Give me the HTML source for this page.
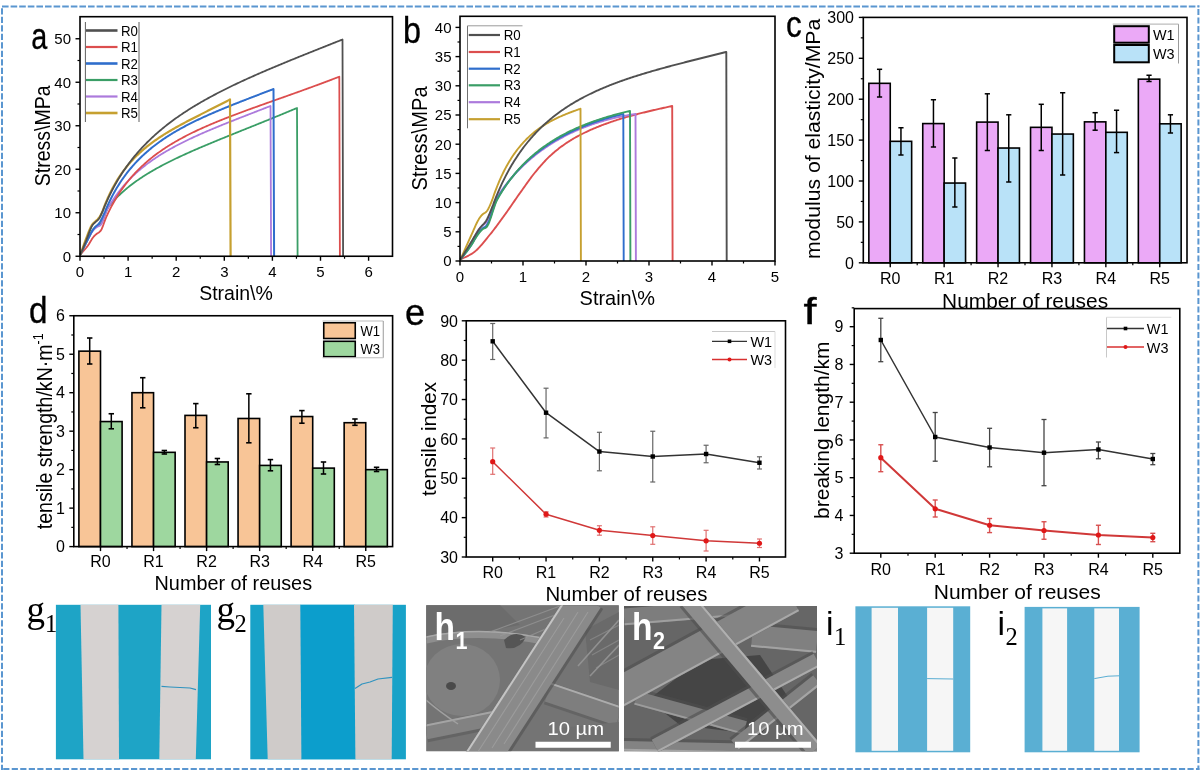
<!DOCTYPE html>
<html><head><meta charset="utf-8"><style>
html,body{margin:0;padding:0;background:#fff;width:1200px;height:781px;overflow:hidden}
svg{display:block;filter:blur(0.4px)}
text{font-family:"Liberation Sans", sans-serif}
</style></head><body>
<svg width="1200" height="781" viewBox="0 0 1200 781">
<g>
<polyline points="80.5,254.5 81.58,252.23 82.67,249.94 83.75,247.64 84.83,245.37 85.92,243.15 87,241 88.13,238.72 89.27,236.37 90.4,234.06 91.53,231.92 92.67,230.06 93.8,228.6 94.87,227.58 95.93,226.74 97,226 98.17,225.35 99.33,224.78 100.5,224 101.63,222.57 102.76,220.36 103.89,217.63 105.01,214.67 106.14,211.74 107.27,209.11 108.4,207.05 108.4,207.05 109.4,205.81 110.4,204.6 111.4,203.43 112.4,202.28 113.4,201.17 114.4,200.08 115.4,199.02 116.4,197.98 117.4,196.97 118.4,195.97 119.4,195.01 120.4,194.06 121.4,193.13 122.4,192.22 123.4,191.33 124.4,190.45 125.4,189.59 126.4,188.75 127.4,187.92 128.4,187.11 129.4,186.31 130.4,185.53 131.4,184.75 132.4,184 133.4,183.25 134.4,182.51 135.4,181.79 136.4,181.07 137.4,180.37 138.4,179.68 139.4,178.99 140.4,178.32 141.4,177.65 142.4,177 143.4,176.35 144.4,175.71 145.4,175.07 146.4,174.45 147.4,173.83 148.4,173.22 149.4,172.62 150.4,172.02 151.4,171.43 152.4,170.85 153.4,170.27 154.4,169.7 155.4,169.13 156.4,168.57 157.4,168.02 158.4,167.47 159.4,166.92 160.4,166.38 161.4,165.85 162.4,165.32 163.4,164.79 164.4,164.27 165.4,163.75 166.4,163.24 167.4,162.73 168.4,162.22 169.4,161.72 170.4,161.22 171.4,160.73 172.4,160.24 173.4,159.75 174.4,159.27 175.4,158.78 176.4,158.31 177.4,157.83 178.4,157.36 179.4,156.89 180.4,156.42 181.4,155.95 182.4,155.49 183.4,155.03 184.4,154.57 185.4,154.12 186.4,153.67 187.4,153.22 188.4,152.77 189.4,152.32 190.4,151.88 191.4,151.43 192.4,150.99 193.4,150.55 194.4,150.11 195.4,149.68 196.4,149.24 197.4,148.81 198.4,148.38 199.4,147.95 200.4,147.52 201.4,147.1 202.4,146.67 203.4,146.25 204.4,145.82 205.4,145.4 206.4,144.98 207.4,144.56 208.4,144.14 209.4,143.72 210.4,143.31 211.4,142.89 212.4,142.48 213.4,142.06 214.4,141.65 215.4,141.24 216.4,140.83 217.4,140.42 218.4,140.01 219.4,139.6 220.4,139.19 221.4,138.78 222.4,138.37 223.4,137.96 224.4,137.56 225.4,137.15 226.4,136.75 227.4,136.34 228.4,135.94 229.4,135.53 230.4,135.13 231.4,134.72 232.4,134.32 233.4,133.92 234.4,133.51 235.4,133.11 236.4,132.71 237.4,132.3 238.4,131.9 239.4,131.5 240.4,131.1 241.4,130.7 242.4,130.29 243.4,129.89 244.4,129.49 245.4,129.09 246.4,128.69 247.4,128.28 248.4,127.88 249.4,127.48 250.4,127.08 251.4,126.68 252.4,126.27 253.4,125.87 254.4,125.47 255.4,125.07 256.4,124.66 257.4,124.26 258.4,123.86 259.4,123.45 260.4,123.05 261.4,122.64 262.4,122.24 263.4,121.83 264.4,121.43 265.4,121.02 266.4,120.62 267.4,120.21 268.4,119.81 269.4,119.4 270.4,118.99 271.4,118.58 272.4,118.18 273.4,117.77 274.4,117.36 275.4,116.95 276.4,116.54 277.4,116.13 278.4,115.72 279.4,115.31 280.4,114.9 281.4,114.48 282.4,114.07 283.4,113.66 284.4,113.25 285.4,112.83 286.4,112.42 287.4,112 288.4,111.58 289.4,111.17 290.4,110.75 291.4,110.33 292.4,109.91 293.4,109.5 294.4,109.08 295.4,108.66 296.4,108.23 297,107.98 297.6,256.25" fill="none" stroke="#3A9E66" stroke-width="1.8" stroke-linejoin="round" />
<polyline points="80.5,254.5 81.58,252.22 82.67,249.89 83.75,247.56 84.83,245.28 85.92,243.08 87,241 88.13,238.88 89.27,236.75 90.4,234.69 91.53,232.78 92.67,231.09 93.8,229.7 94.87,228.64 95.93,227.75 97,227 98.17,226.41 99.33,225.92 100.5,225.2 101.64,223.56 102.78,220.84 103.92,217.57 105.06,214.29 106.2,211.54 106.2,211.54 107.2,209.68 108.2,207.88 109.2,206.14 110.2,204.45 111.2,202.81 112.2,201.22 113.2,199.68 114.2,198.18 115.2,196.72 116.2,195.3 117.2,193.92 118.2,192.57 119.2,191.26 120.2,189.98 121.2,188.73 122.2,187.5 123.2,186.31 124.2,185.15 125.2,184.01 126.2,182.9 127.2,181.81 128.2,180.74 129.2,179.69 130.2,178.67 131.2,177.67 132.2,176.68 133.2,175.72 134.2,174.78 135.2,173.85 136.2,172.94 137.2,172.04 138.2,171.16 139.2,170.3 140.2,169.45 141.2,168.62 142.2,167.8 143.2,166.99 144.2,166.2 145.2,165.42 146.2,164.65 147.2,163.89 148.2,163.15 149.2,162.41 150.2,161.69 151.2,160.98 152.2,160.27 153.2,159.58 154.2,158.9 155.2,158.22 156.2,157.56 157.2,156.9 158.2,156.25 159.2,155.61 160.2,154.98 161.2,154.36 162.2,153.74 163.2,153.13 164.2,152.53 165.2,151.93 166.2,151.34 167.2,150.76 168.2,150.18 169.2,149.61 170.2,149.05 171.2,148.49 172.2,147.94 173.2,147.39 174.2,146.85 175.2,146.31 176.2,145.78 177.2,145.26 178.2,144.73 179.2,144.22 180.2,143.7 181.2,143.2 182.2,142.69 183.2,142.19 184.2,141.7 185.2,141.2 186.2,140.72 187.2,140.23 188.2,139.75 189.2,139.27 190.2,138.8 191.2,138.33 192.2,137.86 193.2,137.4 194.2,136.93 195.2,136.48 196.2,136.02 197.2,135.57 198.2,135.12 199.2,134.67 200.2,134.22 201.2,133.78 202.2,133.34 203.2,132.9 204.2,132.47 205.2,132.03 206.2,131.6 207.2,131.17 208.2,130.75 209.2,130.32 210.2,129.9 211.2,129.48 212.2,129.05 213.2,128.64 214.2,128.22 215.2,127.8 216.2,127.39 217.2,126.98 218.2,126.57 219.2,126.16 220.2,125.75 221.2,125.34 222.2,124.94 223.2,124.53 224.2,124.13 225.2,123.72 226.2,123.32 227.2,122.92 228.2,122.52 229.2,122.12 230.2,121.72 231.2,121.33 232.2,120.93 233.2,120.54 234.2,120.14 235.2,119.75 236.2,119.35 237.2,118.96 238.2,118.57 239.2,118.17 240.2,117.78 241.2,117.39 242.2,117 243.2,116.61 244.2,116.22 245.2,115.83 246.2,115.44 247.2,115.05 248.2,114.66 249.2,114.27 250.2,113.88 251.2,113.5 252.2,113.11 253.2,112.72 254.2,112.33 255.2,111.94 256.2,111.55 257.2,111.17 258.2,110.78 259.2,110.39 260.2,110 261.2,109.61 262.2,109.22 263.2,108.84 264.2,108.45 265.2,108.06 266.2,107.67 267.2,107.28 268.2,106.89 269.2,106.5 270.2,106.11 270.5,105.99 271.1,256.25" fill="none" stroke="#AC7ADC" stroke-width="1.8" stroke-linejoin="round" />
<polyline points="80.5,254.5 81.57,253.24 82.64,252 83.71,250.77 84.79,249.53 85.86,248.25 86.93,246.91 88,245.5 89.16,243.76 90.32,241.82 91.48,239.85 92.64,238.02 93.8,236.5 95.15,235.15 96.5,234 97.5,233.27 98.5,232.64 99.5,231.94 100.5,231 101.64,229.17 102.78,226.47 103.92,223.31 105.06,220.09 106.2,217.22 106.2,217.22 107.2,215.02 108.2,212.89 109.2,210.83 110.2,208.83 111.2,206.9 112.2,205.03 113.2,203.2 114.2,201.44 115.2,199.72 116.2,198.04 117.2,196.42 118.2,194.83 119.2,193.29 120.2,191.78 121.2,190.31 122.2,188.88 123.2,187.48 124.2,186.12 125.2,184.79 126.2,183.48 127.2,182.21 128.2,180.96 129.2,179.74 130.2,178.55 131.2,177.38 132.2,176.24 133.2,175.12 134.2,174.02 135.2,172.95 136.2,171.89 137.2,170.85 138.2,169.84 139.2,168.84 140.2,167.87 141.2,166.9 142.2,165.96 143.2,165.04 144.2,164.12 145.2,163.23 146.2,162.35 147.2,161.49 148.2,160.64 149.2,159.8 150.2,158.98 151.2,158.17 152.2,157.37 153.2,156.58 154.2,155.81 155.2,155.05 156.2,154.3 157.2,153.56 158.2,152.83 159.2,152.11 160.2,151.41 161.2,150.71 162.2,150.02 163.2,149.34 164.2,148.67 165.2,148.01 166.2,147.36 167.2,146.71 168.2,146.08 169.2,145.45 170.2,144.83 171.2,144.22 172.2,143.61 173.2,143.01 174.2,142.42 175.2,141.84 176.2,141.26 177.2,140.69 178.2,140.12 179.2,139.57 180.2,139.01 181.2,138.47 182.2,137.92 183.2,137.39 184.2,136.86 185.2,136.33 186.2,135.81 187.2,135.3 188.2,134.79 189.2,134.28 190.2,133.78 191.2,133.29 192.2,132.8 193.2,132.31 194.2,131.83 195.2,131.35 196.2,130.87 197.2,130.4 198.2,129.93 199.2,129.47 200.2,129.01 201.2,128.56 202.2,128.1 203.2,127.65 204.2,127.21 205.2,126.76 206.2,126.32 207.2,125.89 208.2,125.45 209.2,125.02 210.2,124.59 211.2,124.17 212.2,123.75 213.2,123.33 214.2,122.91 215.2,122.49 216.2,122.08 217.2,121.67 218.2,121.26 219.2,120.85 220.2,120.45 221.2,120.05 222.2,119.65 223.2,119.25 224.2,118.85 225.2,118.46 226.2,118.07 227.2,117.68 228.2,117.29 229.2,116.9 230.2,116.51 231.2,116.13 232.2,115.75 233.2,115.36 234.2,114.98 235.2,114.61 236.2,114.23 237.2,113.85 238.2,113.48 239.2,113.1 240.2,112.73 241.2,112.36 242.2,111.99 243.2,111.62 244.2,111.25 245.2,110.88 246.2,110.52 247.2,110.15 248.2,109.78 249.2,109.42 250.2,109.06 251.2,108.69 252.2,108.33 253.2,107.97 254.2,107.61 255.2,107.25 256.2,106.89 257.2,106.53 258.2,106.17 259.2,105.81 260.2,105.46 261.2,105.1 262.2,104.74 263.2,104.39 264.2,104.03 265.2,103.67 266.2,103.32 267.2,102.96 268.2,102.61 269.2,102.25 270.2,101.9 271.2,101.54 272.2,101.19 273.2,100.84 274.2,100.48 275.2,100.13 276.2,99.77 277.2,99.42 278.2,99.06 279.2,98.71 280.2,98.36 281.2,98 282.2,97.65 283.2,97.29 284.2,96.94 285.2,96.58 286.2,96.23 287.2,95.87 288.2,95.52 289.2,95.16 290.2,94.8 291.2,94.45 292.2,94.09 293.2,93.73 294.2,93.38 295.2,93.02 296.2,92.66 297.2,92.3 298.2,91.95 299.2,91.59 300.2,91.23 301.2,90.87 302.2,90.51 303.2,90.15 304.2,89.78 305.2,89.42 306.2,89.06 307.2,88.7 308.2,88.33 309.2,87.97 310.2,87.61 311.2,87.24 312.2,86.87 313.2,86.51 314.2,86.14 315.2,85.77 316.2,85.4 317.2,85.04 318.2,84.67 319.2,84.3 320.2,83.93 321.2,83.55 322.2,83.18 323.2,82.81 324.2,82.43 325.2,82.06 326.2,81.68 327.2,81.31 328.2,80.93 329.2,80.55 330.2,80.17 331.2,79.79 332.2,79.41 333.2,79.03 334.2,78.65 335.2,78.27 336.2,77.88 337.2,77.5 338.2,77.11 339.2,76.73 339.3,76.69 339.9,256.25" fill="none" stroke="#DC4E4E" stroke-width="1.8" stroke-linejoin="round" />
<polyline points="80.5,254.5 81.58,252.23 82.67,249.94 83.75,247.64 84.83,245.37 85.92,243.15 87,241 88.13,238.75 89.27,236.47 90.4,234.24 91.53,232.13 92.67,230.22 93.8,228.6 94.92,227.34 96.04,226.32 97.16,225.36 98.28,224.31 99.4,223 100.52,221.24 101.64,219.08 102.76,216.65 103.88,214.11 105,211.61 105,211.61 106,209.23 107,206.93 108,204.71 109,202.56 110,200.49 111,198.47 112,196.52 113,194.63 114,192.79 115,191.01 116,189.28 117,187.59 118,185.95 119,184.36 120,182.8 121,181.29 122,179.81 123,178.37 124,176.96 125,175.59 126,174.25 127,172.94 128,171.66 129,170.41 130,169.18 131,167.99 132,166.82 133,165.67 134,164.54 135,163.44 136,162.36 137,161.31 138,160.27 139,159.25 140,158.25 141,157.28 142,156.31 143,155.37 144,154.44 145,153.53 146,152.64 147,151.76 148,150.89 149,150.04 150,149.21 151,148.38 152,147.57 153,146.78 154,145.99 155,145.22 156,144.46 157,143.71 158,142.97 159,142.24 160,141.52 161,140.82 162,140.12 163,139.43 164,138.75 165,138.08 166,137.42 167,136.77 168,136.13 169,135.49 170,134.86 171,134.24 172,133.63 173,133.02 174,132.42 175,131.83 176,131.24 177,130.67 178,130.09 179,129.53 180,128.97 181,128.41 182,127.86 183,127.32 184,126.78 185,126.25 186,125.72 187,125.2 188,124.68 189,124.17 190,123.66 191,123.15 192,122.65 193,122.16 194,121.66 195,121.18 196,120.69 197,120.21 198,119.73 199,119.26 200,118.79 201,118.33 202,117.86 203,117.4 204,116.95 205,116.49 206,116.04 207,115.59 208,115.15 209,114.7 210,114.26 211,113.83 212,113.39 213,112.96 214,112.53 215,112.1 216,111.67 217,111.25 218,110.83 219,110.41 220,109.99 221,109.57 222,109.16 223,108.74 224,108.33 225,107.92 226,107.51 227,107.11 228,106.7 229,106.3 230,105.89 231,105.49 232,105.09 233,104.69 234,104.29 235,103.89 236,103.5 237,103.1 238,102.71 239,102.32 240,101.92 241,101.53 242,101.14 243,100.75 244,100.36 245,99.97 246,99.58 247,99.19 248,98.81 249,98.42 250,98.03 251,97.65 252,97.26 253,96.87 254,96.49 255,96.1 256,95.72 257,95.33 258,94.95 259,94.56 260,94.18 261,93.8 262,93.41 263,93.03 264,92.64 265,92.26 266,91.88 267,91.49 268,91.11 269,90.72 270,90.34 271,89.95 272,89.57 273,89.18 273.5,88.99 274.1,256.25" fill="none" stroke="#2F6ECC" stroke-width="2.0" stroke-linejoin="round" />
<polyline points="80.5,254.5 81.6,251.35 82.7,248.14 83.8,244.97 84.9,241.89 86,239 87.1,236.15 88.2,233.24 89.3,230.43 90.4,227.85 91.5,225.66 92.6,224 93.8,222.82 95,221.8 96.27,220.64 97.53,219.45 98.8,218 99.8,216.51 100.8,214.69 101.8,212.65 102.8,210.49 102.8,210.49 103.8,207.79 104.8,205.21 105.8,202.73 106.8,200.35 107.8,198.06 108.8,195.85 109.8,193.73 110.8,191.69 111.8,189.71 112.8,187.81 113.8,185.97 114.8,184.18 115.8,182.46 116.8,180.79 117.8,179.17 118.8,177.6 119.8,176.08 120.8,174.6 121.8,173.16 122.8,171.77 123.8,170.41 124.8,169.09 125.8,167.8 126.8,166.55 127.8,165.33 128.8,164.14 129.8,162.98 130.8,161.84 131.8,160.74 132.8,159.66 133.8,158.6 134.8,157.57 135.8,156.56 136.8,155.57 137.8,154.6 138.8,153.66 139.8,152.73 140.8,151.82 141.8,150.93 142.8,150.06 143.8,149.2 144.8,148.36 145.8,147.53 146.8,146.72 147.8,145.92 148.8,145.14 149.8,144.36 150.8,143.61 151.8,142.86 152.8,142.12 153.8,141.4 154.8,140.69 155.8,139.98 156.8,139.29 157.8,138.61 158.8,137.93 159.8,137.27 160.8,136.61 161.8,135.96 162.8,135.32 163.8,134.69 164.8,134.06 165.8,133.44 166.8,132.83 167.8,132.22 168.8,131.62 169.8,131.02 170.8,130.44 171.8,129.85 172.8,129.27 173.8,128.7 174.8,128.13 175.8,127.57 176.8,127 177.8,126.45 178.8,125.9 179.8,125.35 180.8,124.8 181.8,124.26 182.8,123.72 183.8,123.19 184.8,122.65 185.8,122.12 186.8,121.59 187.8,121.07 188.8,120.55 189.8,120.02 190.8,119.5 191.8,118.99 192.8,118.47 193.8,117.96 194.8,117.44 195.8,116.93 196.8,116.42 197.8,115.91 198.8,115.4 199.8,114.9 200.8,114.39 201.8,113.88 202.8,113.38 203.8,112.87 204.8,112.37 205.8,111.86 206.8,111.36 207.8,110.85 208.8,110.35 209.8,109.84 210.8,109.34 211.8,108.83 212.8,108.32 213.8,107.82 214.8,107.31 215.8,106.8 216.8,106.29 217.8,105.79 218.8,105.28 219.8,104.77 220.8,104.25 221.8,103.74 222.8,103.23 223.8,102.71 224.8,102.2 225.8,101.68 226.8,101.16 227.8,100.64 228.8,100.12 229.8,99.59 230,99.49 230.6,256.25" fill="none" stroke="#C6A030" stroke-width="2.2" stroke-linejoin="round" />
<polyline points="80.5,254.5 81.6,251.8 82.7,249.09 83.8,246.39 84.9,243.69 86,241 87.1,238.16 88.2,235.14 89.3,232.12 90.4,229.3 91.5,226.86 92.6,225 93.8,223.63 95,222.5 96.27,221.39 97.53,220.34 98.8,219 99.8,217.44 100.8,215.42 101.8,213.17 102.8,210.89 102.8,210.89 103.8,208.39 104.8,205.96 105.8,203.62 106.8,201.34 107.8,199.13 108.8,196.99 109.8,194.9 110.8,192.88 111.8,190.9 112.8,188.98 113.8,187.11 114.8,185.28 115.8,183.5 116.8,181.76 117.8,180.06 118.8,178.39 119.8,176.77 120.8,175.18 121.8,173.62 122.8,172.1 123.8,170.61 124.8,169.14 125.8,167.71 126.8,166.3 127.8,164.92 128.8,163.57 129.8,162.24 130.8,160.94 131.8,159.65 132.8,158.39 133.8,157.16 134.8,155.94 135.8,154.74 136.8,153.57 137.8,152.41 138.8,151.27 139.8,150.15 140.8,149.04 141.8,147.96 142.8,146.88 143.8,145.83 144.8,144.79 145.8,143.76 146.8,142.75 147.8,141.76 148.8,140.78 149.8,139.81 150.8,138.85 151.8,137.91 152.8,136.98 153.8,136.06 154.8,135.15 155.8,134.25 156.8,133.37 157.8,132.5 158.8,131.63 159.8,130.78 160.8,129.94 161.8,129.1 162.8,128.28 163.8,127.47 164.8,126.66 165.8,125.87 166.8,125.08 167.8,124.3 168.8,123.53 169.8,122.77 170.8,122.01 171.8,121.27 172.8,120.53 173.8,119.8 174.8,119.07 175.8,118.35 176.8,117.64 177.8,116.94 178.8,116.24 179.8,115.55 180.8,114.87 181.8,114.19 182.8,113.52 183.8,112.86 184.8,112.2 185.8,111.54 186.8,110.89 187.8,110.25 188.8,109.61 189.8,108.98 190.8,108.35 191.8,107.73 192.8,107.11 193.8,106.5 194.8,105.89 195.8,105.29 196.8,104.69 197.8,104.1 198.8,103.51 199.8,102.92 200.8,102.34 201.8,101.77 202.8,101.19 203.8,100.62 204.8,100.06 205.8,99.5 206.8,98.94 207.8,98.39 208.8,97.84 209.8,97.29 210.8,96.75 211.8,96.21 212.8,95.67 213.8,95.14 214.8,94.61 215.8,94.08 216.8,93.56 217.8,93.04 218.8,92.52 219.8,92 220.8,91.49 221.8,90.98 222.8,90.47 223.8,89.97 224.8,89.47 225.8,88.97 226.8,88.47 227.8,87.98 228.8,87.49 229.8,87 230.8,86.51 231.8,86.03 232.8,85.55 233.8,85.06 234.8,84.59 235.8,84.11 236.8,83.64 237.8,83.17 238.8,82.7 239.8,82.23 240.8,81.76 241.8,81.3 242.8,80.84 243.8,80.38 244.8,79.92 245.8,79.46 246.8,79 247.8,78.55 248.8,78.1 249.8,77.65 250.8,77.2 251.8,76.75 252.8,76.31 253.8,75.86 254.8,75.42 255.8,74.98 256.8,74.54 257.8,74.1 258.8,73.66 259.8,73.22 260.8,72.79 261.8,72.36 262.8,71.92 263.8,71.49 264.8,71.06 265.8,70.63 266.8,70.2 267.8,69.78 268.8,69.35 269.8,68.93 270.8,68.5 271.8,68.08 272.8,67.66 273.8,67.24 274.8,66.82 275.8,66.4 276.8,65.98 277.8,65.56 278.8,65.14 279.8,64.73 280.8,64.31 281.8,63.9 282.8,63.48 283.8,63.07 284.8,62.66 285.8,62.25 286.8,61.84 287.8,61.43 288.8,61.02 289.8,60.61 290.8,60.2 291.8,59.79 292.8,59.38 293.8,58.98 294.8,58.57 295.8,58.16 296.8,57.76 297.8,57.35 298.8,56.95 299.8,56.54 300.8,56.14 301.8,55.74 302.8,55.33 303.8,54.93 304.8,54.53 305.8,54.13 306.8,53.72 307.8,53.32 308.8,52.92 309.8,52.52 310.8,52.12 311.8,51.72 312.8,51.32 313.8,50.92 314.8,50.52 315.8,50.12 316.8,49.72 317.8,49.32 318.8,48.93 319.8,48.53 320.8,48.13 321.8,47.73 322.8,47.33 323.8,46.93 324.8,46.54 325.8,46.14 326.8,45.74 327.8,45.34 328.8,44.94 329.8,44.55 330.8,44.15 331.8,43.75 332.8,43.35 333.8,42.96 334.8,42.56 335.8,42.16 336.8,41.76 337.8,41.37 338.8,40.97 339.8,40.57 340.8,40.17 341.8,39.77 342.5,39.49 343.1,256.25" fill="none" stroke="#505050" stroke-width="1.8" stroke-linejoin="round" />
<rect x="80" y="16.7" width="312.5" height="239.55" fill="none" stroke="#000" stroke-width="1.6"/>
<line x1="75.5" y1="256.25" x2="80" y2="256.25" stroke="#000" stroke-width="1.4" />
<text x="71" y="261.62" font-size="15" text-anchor="end" fill="#000" >0</text>
<line x1="75.5" y1="212.75" x2="80" y2="212.75" stroke="#000" stroke-width="1.4" />
<text x="71" y="218.12" font-size="15" text-anchor="end" fill="#000" >10</text>
<line x1="75.5" y1="169.25" x2="80" y2="169.25" stroke="#000" stroke-width="1.4" />
<text x="71" y="174.62" font-size="15" text-anchor="end" fill="#000" >20</text>
<line x1="75.5" y1="125.75" x2="80" y2="125.75" stroke="#000" stroke-width="1.4" />
<text x="71" y="131.12" font-size="15" text-anchor="end" fill="#000" >30</text>
<line x1="75.5" y1="82.25" x2="80" y2="82.25" stroke="#000" stroke-width="1.4" />
<text x="71" y="87.62" font-size="15" text-anchor="end" fill="#000" >40</text>
<line x1="75.5" y1="38.75" x2="80" y2="38.75" stroke="#000" stroke-width="1.4" />
<text x="71" y="44.12" font-size="15" text-anchor="end" fill="#000" >50</text>
<line x1="77.5" y1="234.5" x2="80" y2="234.5" stroke="#000" stroke-width="1.2" />
<line x1="77.5" y1="191" x2="80" y2="191" stroke="#000" stroke-width="1.2" />
<line x1="77.5" y1="147.5" x2="80" y2="147.5" stroke="#000" stroke-width="1.2" />
<line x1="77.5" y1="104" x2="80" y2="104" stroke="#000" stroke-width="1.2" />
<line x1="77.5" y1="60.5" x2="80" y2="60.5" stroke="#000" stroke-width="1.2" />
<line x1="80" y1="256.25" x2="80" y2="260.75" stroke="#000" stroke-width="1.4" />
<text x="80" y="276.8" font-size="15" text-anchor="middle" fill="#000" >0</text>
<line x1="128.1" y1="256.25" x2="128.1" y2="260.75" stroke="#000" stroke-width="1.4" />
<text x="128.1" y="276.8" font-size="15" text-anchor="middle" fill="#000" >1</text>
<line x1="176.2" y1="256.25" x2="176.2" y2="260.75" stroke="#000" stroke-width="1.4" />
<text x="176.2" y="276.8" font-size="15" text-anchor="middle" fill="#000" >2</text>
<line x1="224.3" y1="256.25" x2="224.3" y2="260.75" stroke="#000" stroke-width="1.4" />
<text x="224.3" y="276.8" font-size="15" text-anchor="middle" fill="#000" >3</text>
<line x1="272.4" y1="256.25" x2="272.4" y2="260.75" stroke="#000" stroke-width="1.4" />
<text x="272.4" y="276.8" font-size="15" text-anchor="middle" fill="#000" >4</text>
<line x1="320.5" y1="256.25" x2="320.5" y2="260.75" stroke="#000" stroke-width="1.4" />
<text x="320.5" y="276.8" font-size="15" text-anchor="middle" fill="#000" >5</text>
<line x1="368.6" y1="256.25" x2="368.6" y2="260.75" stroke="#000" stroke-width="1.4" />
<text x="368.6" y="276.8" font-size="15" text-anchor="middle" fill="#000" >6</text>
<line x1="104.05" y1="256.25" x2="104.05" y2="258.75" stroke="#000" stroke-width="1.2" />
<line x1="152.15" y1="256.25" x2="152.15" y2="258.75" stroke="#000" stroke-width="1.2" />
<line x1="200.25" y1="256.25" x2="200.25" y2="258.75" stroke="#000" stroke-width="1.2" />
<line x1="248.35" y1="256.25" x2="248.35" y2="258.75" stroke="#000" stroke-width="1.2" />
<line x1="296.45" y1="256.25" x2="296.45" y2="258.75" stroke="#000" stroke-width="1.2" />
<line x1="344.55" y1="256.25" x2="344.55" y2="258.75" stroke="#000" stroke-width="1.2" />
<line x1="85.4" y1="22" x2="85.4" y2="122" stroke="#606060" stroke-width="1" />
<line x1="139" y1="22" x2="139" y2="122" stroke="#606060" stroke-width="1" />
<line x1="86" y1="30.5" x2="117.5" y2="30.5" stroke="#505050" stroke-width="2.6" />
<text x="121" y="35.5" font-size="14" text-anchor="start" fill="#000" textLength="17" lengthAdjust="spacingAndGlyphs" >R0</text>
<line x1="86" y1="47" x2="117.5" y2="47" stroke="#DC4E4E" stroke-width="2.2" />
<text x="121" y="52" font-size="14" text-anchor="start" fill="#000" textLength="17" lengthAdjust="spacingAndGlyphs" >R1</text>
<line x1="86" y1="63.5" x2="117.5" y2="63.5" stroke="#2F6ECC" stroke-width="2.6" />
<text x="121" y="68.5" font-size="14" text-anchor="start" fill="#000" textLength="17" lengthAdjust="spacingAndGlyphs" >R2</text>
<line x1="86" y1="80" x2="117.5" y2="80" stroke="#3A9E66" stroke-width="2.2" />
<text x="121" y="85" font-size="14" text-anchor="start" fill="#000" textLength="17" lengthAdjust="spacingAndGlyphs" >R3</text>
<line x1="86" y1="96.5" x2="117.5" y2="96.5" stroke="#AC7ADC" stroke-width="2.2" />
<text x="121" y="101.5" font-size="14" text-anchor="start" fill="#000" textLength="17" lengthAdjust="spacingAndGlyphs" >R4</text>
<line x1="86" y1="113" x2="117.5" y2="113" stroke="#C6A030" stroke-width="2.6" />
<text x="121" y="118" font-size="14" text-anchor="start" fill="#000" textLength="17" lengthAdjust="spacingAndGlyphs" >R5</text>
<text x="49.8" y="135.8" font-size="22" text-anchor="middle" fill="#000" textLength="100.8" lengthAdjust="spacingAndGlyphs" transform="rotate(-90 49.8 135.8)" >Stress\MPa</text>
<text x="236" y="299.8" font-size="20.5" text-anchor="middle" fill="#000" textLength="73.7" lengthAdjust="spacingAndGlyphs" >Strain\%</text>
<text x="31.2" y="49.2" font-size="36" text-anchor="start" fill="#000" textLength="16" lengthAdjust="spacingAndGlyphs" stroke="#000" stroke-width="0.35">a</text>
</g>
<polyline points="460.5,259.5 461.51,258.97 462.52,258.47 463.52,257.98 464.53,257.5 465.54,257.02 466.55,256.53 467.55,256.04 468.56,255.53 469.57,254.99 470.58,254.43 471.58,253.83 472.59,253.19 473.6,252.5 474.62,251.73 475.65,250.88 476.68,249.96 477.7,248.98 478.73,247.93 479.75,246.84 480.78,245.7 481.8,244.52 482.82,243.31 483.85,242.07 484.88,240.81 485.9,239.55 486.93,238.28 487.95,237.01 488.98,235.75 490,234.5 491,233.28 492,232.04 493,230.77 494,229.48 495,228.17 496,226.84 497,225.5 498,224.15 499,222.79 500,221.42 501,220.04 502,218.65 503,217.27 504,215.88 505,214.5 506,213.11 507,211.7 508,210.28 509,208.85 510,207.41 511,205.96 512,204.51 513,203.06 514,201.6 515,200.15 516,198.7 517,197.26 518,195.83 519,194.41 520,193 521,191.6 522,190.18 523,188.77 524,187.35 525,185.93 526,184.52 527,183.11 528,181.72 529,180.33 530,178.97 531,177.62 532,176.3 533,175 534,173.74 535,172.5 536,171.29 537,170.08 538,168.89 539,167.71 540,166.54 541,165.39 542,164.26 543,163.15 544,162.05 545,160.98 546,159.93 547,158.91 548,157.91 549,156.94 550,156 551,155.08 552,154.18 553,153.3 554,152.44 555,151.59 556,150.76 557,149.95 558,149.15 559,148.37 560,147.61 561,146.86 562,146.12 563,145.4 564,144.69 565,144 566,143.32 567,142.65 568,142 569,141.35 570,140.72 571,140.1 572,139.49 573,138.89 574,138.3 575,137.72 576,137.16 577,136.6 578,136.06 579,135.52 580,135 581,134.49 582,133.98 583,133.48 584,132.99 585,132.5 586,132.02 587,131.55 588,131.09 589,130.63 590,130.18 591,129.73 592,129.3 593,128.86 594,128.44 595,128.02 596,127.6 597,127.19 598,126.79 599,126.39 600,126 601,125.61 602,125.23 603,124.85 604,124.48 605,124.11 606,123.74 607,123.38 608,123.02 609,122.66 610,122.31 611,121.97 612,121.62 613,121.29 614,120.95 615,120.62 616,120.29 617,119.97 618,119.65 619,119.33 620,119.02 621,118.71 622,118.4 623,118.1 624,117.8 625,117.5 626,117.21 627,116.92 628,116.63 629,116.35 630,116.07 631,115.8 632,115.53 633,115.26 634,114.99 635,114.73 636,114.47 637,114.21 638,113.95 639,113.7 640,113.45 641,113.2 642,112.95 643,112.7 644,112.46 645,112.21 646,111.97 647,111.72 648,111.48 649,111.24 650,111 651.01,110.76 652.02,110.52 653.03,110.28 654.04,110.05 655.05,109.82 656.05,109.59 657.06,109.36 658.07,109.13 659.08,108.9 660.09,108.68 661.1,108.46 662.11,108.23 663.12,108.01 664.13,107.79 665.14,107.57 666.15,107.34 667.15,107.12 668.16,106.9 669.17,106.68 670.18,106.45 671.19,106.23 672.2,106 672.6,261" fill="none" stroke="#DC4E4E" stroke-width="1.9" stroke-linejoin="round" />
<polyline points="460.5,259.5 461.56,257.9 462.61,256.31 463.67,254.73 464.72,253.15 465.78,251.56 466.83,249.96 467.89,248.34 468.94,246.69 470,245 471.1,243.14 472.2,241.15 473.3,239.09 474.4,237 475.5,234.94 476.6,232.95 477.7,231.1 478.8,229.43 479.9,228 480.93,226.88 481.97,225.91 483,225 484.03,224.2 485.07,223.45 486.1,222.5 487.19,220.98 488.28,218.92 489.37,216.42 490.46,213.61 491.55,210.61 492.64,207.54 493.73,204.52 494.82,201.68 495.91,199.13 497,197 497,197 498,195.5 499,194.03 500,192.6 501,191.19 502,189.81 503,188.45 504,187.12 505,185.81 506,184.53 507,183.28 508,182.04 509,180.83 510,179.63 511,178.46 512,177.31 513,176.18 514,175.07 515,173.97 516,172.89 517,171.84 518,170.79 519,169.77 520,168.76 521,167.77 522,166.79 523,165.83 524,164.88 525,163.95 526,163.03 527,162.13 528,161.24 529,160.36 530,159.5 531,158.65 532,157.81 533,156.98 534,156.17 535,155.37 536,154.58 537,153.8 538,153.03 539,152.28 540,151.53 541,150.8 542,150.07 543,149.36 544,148.66 545,147.96 546,147.28 547,146.61 548,145.94 549,145.29 550,144.64 551,144.01 552,143.38 553,142.76 554,142.15 555,141.55 556,140.96 557,140.37 558,139.8 559,139.23 560,138.67 561,138.12 562,137.57 563,137.04 564,136.51 565,135.99 566,135.47 567,134.97 568,134.47 569,133.98 570,133.49 571,133.01 572,132.54 573,132.08 574,131.62 575,131.17 576,130.73 577,130.29 578,129.86 579,129.43 580,129.01 581,128.6 582,128.2 583,127.8 584,127.4 585,127.01 586,126.63 587,126.25 588,125.88 589,125.52 590,125.16 591,124.8 592,124.46 593,124.11 594,123.78 595,123.44 596,123.12 597,122.8 598,122.48 599,122.17 600,121.86 601,121.56 602,121.27 603,120.98 604,120.69 605,120.41 606,120.13 607,119.86 608,119.6 609,119.34 610,119.08 611,118.83 612,118.58 613,118.34 614,118.1 615,117.86 616,117.63 617,117.41 618,117.19 619,116.97 620,116.76 621,116.55 622,116.35 623,116.15 624,115.95 625,115.76 626,115.58 627,115.39 628,115.21 629,115.04 630,114.87 631,114.7 632,114.54 633,114.38 634,114.22 635,114.07 635.5,114 635.9,261" fill="none" stroke="#AC7ADC" stroke-width="1.9" stroke-linejoin="round" />
<polyline points="460.5,259.5 461.56,258.13 462.61,256.77 463.67,255.43 464.72,254.08 465.78,252.73 466.83,251.35 467.89,249.95 468.94,248.5 470,247 471.1,245.32 472.2,243.49 473.3,241.58 474.4,239.62 475.5,237.67 476.6,235.79 477.7,234.01 478.8,232.4 479.9,231 480.93,229.87 481.97,228.87 483,228 484.03,227.34 485.07,226.76 486.1,226 487.19,224.62 488.28,222.57 489.37,220 490.46,217.05 491.55,213.85 492.64,210.54 493.73,207.26 494.82,204.15 495.91,201.35 497,199 497,199 498,197.31 499,195.66 500,194.05 501,192.47 502,190.94 503,189.43 504,187.96 505,186.53 506,185.12 507,183.75 508,182.4 509,181.08 510,179.79 511,178.52 512,177.28 513,176.07 514,174.87 515,173.7 516,172.56 517,171.43 518,170.33 519,169.25 520,168.18 521,167.14 522,166.12 523,165.11 524,164.12 525,163.15 526,162.2 527,161.26 528,160.34 529,159.43 530,158.54 531,157.66 532,156.8 533,155.96 534,155.12 535,154.31 536,153.5 537,152.71 538,151.93 539,151.16 540,150.4 541,149.66 542,148.93 543,148.21 544,147.5 545,146.8 546,146.11 547,145.43 548,144.77 549,144.11 550,143.46 551,142.82 552,142.19 553,141.58 554,140.97 555,140.37 556,139.77 557,139.19 558,138.61 559,138.05 560,137.49 561,136.94 562,136.4 563,135.86 564,135.33 565,134.81 566,134.3 567,133.8 568,133.3 569,132.81 570,132.32 571,131.84 572,131.37 573,130.91 574,130.45 575,130 576,129.55 577,129.11 578,128.67 579,128.25 580,127.82 581,127.41 582,127 583,126.59 584,126.19 585,125.8 586,125.41 587,125.02 588,124.64 589,124.27 590,123.9 591,123.53 592,123.18 593,122.82 594,122.47 595,122.12 596,121.78 597,121.45 598,121.11 599,120.79 600,120.46 601,120.14 602,119.83 603,119.52 604,119.21 605,118.91 606,118.61 607,118.31 608,118.02 609,117.73 610,117.45 611,117.17 612,116.89 613,116.62 614,116.35 615,116.08 616,115.82 617,115.56 618,115.3 619,115.05 620,114.8 621,114.55 622,114.31 623,114.07 623.3,114 623.7,261" fill="none" stroke="#2F6ECC" stroke-width="1.9" stroke-linejoin="round" />
<polyline points="460.5,259.5 461.56,258.12 462.61,256.76 463.67,255.4 464.72,254.04 465.78,252.68 466.83,251.3 467.89,249.9 468.94,248.47 470,247 471.1,245.39 472.2,243.67 473.3,241.88 474.4,240.07 475.5,238.27 476.6,236.52 477.7,234.87 478.8,233.35 479.9,232 480.93,230.85 481.97,229.81 483,229 484.03,228.48 485.07,228.07 486.1,227.5 487.19,226.29 488.28,224.33 489.37,221.77 490.46,218.77 491.55,215.48 492.64,212.05 493.73,208.63 494.82,205.39 495.91,202.46 497,200.01 497,200.01 498,198.23 499,196.5 500,194.81 501,193.16 502,191.55 503,189.98 504,188.44 505,186.94 506,185.47 507,184.03 508,182.63 509,181.25 510,179.91 511,178.59 512,177.3 513,176.04 514,174.8 515,173.59 516,172.4 517,171.24 518,170.1 519,168.98 520,167.88 521,166.8 522,165.74 523,164.7 524,163.68 525,162.68 526,161.7 527,160.73 528,159.79 529,158.85 530,157.94 531,157.04 532,156.16 533,155.29 534,154.43 535,153.59 536,152.77 537,151.96 538,151.16 539,150.37 540,149.6 541,148.84 542,148.09 543,147.36 544,146.63 545,145.92 546,145.22 547,144.53 548,143.85 549,143.18 550,142.52 551,141.87 552,141.23 553,140.6 554,139.98 555,139.37 556,138.77 557,138.18 558,137.59 559,137.02 560,136.45 561,135.89 562,135.34 563,134.8 564,134.27 565,133.74 566,133.22 567,132.71 568,132.2 569,131.7 570,131.21 571,130.73 572,130.25 573,129.78 574,129.32 575,128.86 576,128.41 577,127.96 578,127.52 579,127.09 580,126.66 581,126.24 582,125.82 583,125.41 584,125.01 585,124.61 586,124.21 587,123.82 588,123.44 589,123.06 590,122.69 591,122.32 592,121.95 593,121.59 594,121.24 595,120.89 596,120.54 597,120.2 598,119.86 599,119.53 600,119.2 601,118.87 602,118.55 603,118.24 604,117.92 605,117.61 606,117.31 607,117.01 608,116.71 609,116.42 610,116.13 611,115.84 612,115.56 613,115.28 614,115 615,114.73 616,114.46 617,114.19 618,113.93 619,113.67 620,113.41 621,113.16 622,112.91 623,112.66 624,112.41 625,112.17 626,111.93 627,111.69 628,111.46 629,111.23 630,111 630.4,261" fill="none" stroke="#3A9E66" stroke-width="1.9" stroke-linejoin="round" />
<polyline points="460.5,259.5 461.5,257.24 462.5,254.97 463.5,252.69 464.5,250.41 465.5,248.13 466.5,245.87 467.5,243.61 468.5,241.38 469.5,239.18 470.5,237 471.54,234.69 472.59,232.32 473.63,229.91 474.68,227.52 475.72,225.2 476.77,222.99 477.81,220.94 478.86,219.1 479.9,217.5 480.93,216.14 481.97,214.96 483,214 484.03,213.32 485.07,212.75 486.1,212 487.15,210.75 488.2,209.01 489.25,206.89 490.3,204.52 491.35,202.01 492.4,199.47 492.4,199.47 493.4,196.52 494.4,193.67 495.4,190.94 496.4,188.3 497.4,185.76 498.4,183.31 499.4,180.94 500.4,178.66 501.4,176.46 502.4,174.33 503.4,172.28 504.4,170.29 505.4,168.37 506.4,166.51 507.4,164.71 508.4,162.97 509.4,161.28 510.4,159.65 511.4,158.07 512.4,156.54 513.4,155.05 514.4,153.61 515.4,152.21 516.4,150.86 517.4,149.54 518.4,148.27 519.4,147.03 520.4,145.82 521.4,144.66 522.4,143.52 523.4,142.42 524.4,141.35 525.4,140.3 526.4,139.29 527.4,138.3 528.4,137.34 529.4,136.41 530.4,135.5 531.4,134.62 532.4,133.76 533.4,132.92 534.4,132.1 535.4,131.31 536.4,130.53 537.4,129.78 538.4,129.04 539.4,128.32 540.4,127.62 541.4,126.94 542.4,126.27 543.4,125.62 544.4,124.98 545.4,124.36 546.4,123.75 547.4,123.16 548.4,122.58 549.4,122.01 550.4,121.46 551.4,120.91 552.4,120.38 553.4,119.86 554.4,119.35 555.4,118.85 556.4,118.36 557.4,117.88 558.4,117.41 559.4,116.95 560.4,116.5 561.4,116.05 562.4,115.61 563.4,115.18 564.4,114.76 565.4,114.35 566.4,113.94 567.4,113.54 568.4,113.14 569.4,112.75 570.4,112.37 571.4,111.99 572.4,111.61 573.4,111.24 574.4,110.88 575.4,110.52 576.4,110.17 577.4,109.81 578.4,109.47 579.4,109.12 580.4,108.78 580.5,108.75 580.9,261" fill="none" stroke="#C6A030" stroke-width="1.9" stroke-linejoin="round" />
<polyline points="460.5,259.5 461.56,257.78 462.61,256.05 463.67,254.32 464.72,252.59 465.78,250.87 466.83,249.14 467.89,247.42 468.94,245.71 470,244 471,242.36 472,240.69 473,239.01 474,237.32 475,235.65 476,234 477,232.4 478,230.85 479,229.38 480,228 481,226.77 482,225.68 483,224.65 484,223.59 485,222.4 486,221 487,219.29 488,217.26 489,214.99 490,212.56 491,210.03 492,207.48 493,204.98 493,204.98 494,202.31 495,199.72 496,197.2 497,194.76 498,192.37 499,190.05 500,187.79 501,185.59 502,183.45 503,181.35 504,179.31 505,177.32 506,175.37 507,173.47 508,171.62 509,169.8 510,168.03 511,166.29 512,164.6 513,162.94 514,161.32 515,159.73 516,158.17 517,156.65 518,155.15 519,153.69 520,152.26 521,150.85 522,149.48 523,148.12 524,146.8 525,145.5 526,144.23 527,142.98 528,141.75 529,140.54 530,139.36 531,138.2 532,137.06 533,135.94 534,134.84 535,133.75 536,132.69 537,131.65 538,130.62 539,129.61 540,128.62 541,127.64 542,126.68 543,125.74 544,124.81 545,123.9 546,123 547,122.11 548,121.24 549,120.38 550,119.54 551,118.71 552,117.89 553,117.09 554,116.29 555,115.51 556,114.74 557,113.98 558,113.23 559,112.5 560,111.77 561,111.06 562,110.35 563,109.66 564,108.97 565,108.3 566,107.63 567,106.97 568,106.32 569,105.68 570,105.05 571,104.43 572,103.82 573,103.21 574,102.61 575,102.02 576,101.44 577,100.86 578,100.3 579,99.74 580,99.18 581,98.64 582,98.1 583,97.56 584,97.03 585,96.51 586,96 587,95.49 588,94.99 589,94.49 590,94 591,93.52 592,93.04 593,92.56 594,92.09 595,91.63 596,91.17 597,90.72 598,90.27 599,89.83 600,89.39 601,88.95 602,88.52 603,88.1 604,87.68 605,87.26 606,86.85 607,86.44 608,86.03 609,85.63 610,85.23 611,84.84 612,84.45 613,84.07 614,83.68 615,83.31 616,82.93 617,82.56 618,82.19 619,81.82 620,81.46 621,81.1 622,80.75 623,80.39 624,80.04 625,79.7 626,79.35 627,79.01 628,78.67 629,78.34 630,78 631,77.67 632,77.34 633,77.01 634,76.69 635,76.37 636,76.05 637,75.73 638,75.42 639,75.1 640,74.79 641,74.48 642,74.18 643,73.87 644,73.57 645,73.27 646,72.97 647,72.67 648,72.37 649,72.08 650,71.79 651,71.49 652,71.2 653,70.92 654,70.63 655,70.34 656,70.06 657,69.78 658,69.5 659,69.22 660,68.94 661,68.66 662,68.38 663,68.11 664,67.84 665,67.56 666,67.29 667,67.02 668,66.75 669,66.48 670,66.22 671,65.95 672,65.68 673,65.42 674,65.15 675,64.89 676,64.63 677,64.37 678,64.1 679,63.84 680,63.58 681,63.32 682,63.07 683,62.81 684,62.55 685,62.29 686,62.04 687,61.78 688,61.53 689,61.27 690,61.02 691,60.76 692,60.51 693,60.26 694,60 695,59.75 696,59.5 697,59.25 698,58.99 699,58.74 700,58.49 701,58.24 702,57.99 703,57.74 704,57.49 705,57.24 706,56.99 707,56.74 708,56.49 709,56.23 710,55.98 711,55.73 712,55.48 713,55.23 714,54.98 715,54.73 716,54.48 717,54.23 718,53.98 719,53.73 720,53.48 721,53.23 722,52.98 723,52.72 724,52.47 725,52.22 726,51.97 726.3,51.89 726.7,261" fill="none" stroke="#505050" stroke-width="1.9" stroke-linejoin="round" />
<rect x="460" y="16.3" width="315" height="244.7" fill="none" stroke="#000" stroke-width="1.6"/>
<line x1="455.5" y1="261" x2="460" y2="261" stroke="#000" stroke-width="1.4" />
<text x="451.5" y="266.37" font-size="15" text-anchor="end" fill="#000" >0</text>
<line x1="455.5" y1="231.8" x2="460" y2="231.8" stroke="#000" stroke-width="1.4" />
<text x="451.5" y="237.17" font-size="15" text-anchor="end" fill="#000" >5</text>
<line x1="455.5" y1="202.6" x2="460" y2="202.6" stroke="#000" stroke-width="1.4" />
<text x="451.5" y="207.97" font-size="15" text-anchor="end" fill="#000" >10</text>
<line x1="455.5" y1="173.4" x2="460" y2="173.4" stroke="#000" stroke-width="1.4" />
<text x="451.5" y="178.77" font-size="15" text-anchor="end" fill="#000" >15</text>
<line x1="455.5" y1="144.2" x2="460" y2="144.2" stroke="#000" stroke-width="1.4" />
<text x="451.5" y="149.57" font-size="15" text-anchor="end" fill="#000" >20</text>
<line x1="455.5" y1="115" x2="460" y2="115" stroke="#000" stroke-width="1.4" />
<text x="451.5" y="120.37" font-size="15" text-anchor="end" fill="#000" >25</text>
<line x1="455.5" y1="85.8" x2="460" y2="85.8" stroke="#000" stroke-width="1.4" />
<text x="451.5" y="91.17" font-size="15" text-anchor="end" fill="#000" >30</text>
<line x1="455.5" y1="56.6" x2="460" y2="56.6" stroke="#000" stroke-width="1.4" />
<text x="451.5" y="61.97" font-size="15" text-anchor="end" fill="#000" >35</text>
<line x1="455.5" y1="27.4" x2="460" y2="27.4" stroke="#000" stroke-width="1.4" />
<text x="451.5" y="32.77" font-size="15" text-anchor="end" fill="#000" >40</text>
<line x1="457.5" y1="246.4" x2="460" y2="246.4" stroke="#000" stroke-width="1.2" />
<line x1="457.5" y1="217.2" x2="460" y2="217.2" stroke="#000" stroke-width="1.2" />
<line x1="457.5" y1="188" x2="460" y2="188" stroke="#000" stroke-width="1.2" />
<line x1="457.5" y1="158.8" x2="460" y2="158.8" stroke="#000" stroke-width="1.2" />
<line x1="457.5" y1="129.6" x2="460" y2="129.6" stroke="#000" stroke-width="1.2" />
<line x1="457.5" y1="100.4" x2="460" y2="100.4" stroke="#000" stroke-width="1.2" />
<line x1="457.5" y1="71.2" x2="460" y2="71.2" stroke="#000" stroke-width="1.2" />
<line x1="457.5" y1="42" x2="460" y2="42" stroke="#000" stroke-width="1.2" />
<line x1="460" y1="261" x2="460" y2="265.5" stroke="#000" stroke-width="1.4" />
<text x="460" y="281.5" font-size="15" text-anchor="middle" fill="#000" >0</text>
<line x1="523" y1="261" x2="523" y2="265.5" stroke="#000" stroke-width="1.4" />
<text x="523" y="281.5" font-size="15" text-anchor="middle" fill="#000" >1</text>
<line x1="586" y1="261" x2="586" y2="265.5" stroke="#000" stroke-width="1.4" />
<text x="586" y="281.5" font-size="15" text-anchor="middle" fill="#000" >2</text>
<line x1="649" y1="261" x2="649" y2="265.5" stroke="#000" stroke-width="1.4" />
<text x="649" y="281.5" font-size="15" text-anchor="middle" fill="#000" >3</text>
<line x1="712" y1="261" x2="712" y2="265.5" stroke="#000" stroke-width="1.4" />
<text x="712" y="281.5" font-size="15" text-anchor="middle" fill="#000" >4</text>
<line x1="775" y1="261" x2="775" y2="265.5" stroke="#000" stroke-width="1.4" />
<text x="775" y="281.5" font-size="15" text-anchor="middle" fill="#000" >5</text>
<line x1="491.5" y1="261" x2="491.5" y2="263.5" stroke="#000" stroke-width="1.2" />
<line x1="554.5" y1="261" x2="554.5" y2="263.5" stroke="#000" stroke-width="1.2" />
<line x1="617.5" y1="261" x2="617.5" y2="263.5" stroke="#000" stroke-width="1.2" />
<line x1="680.5" y1="261" x2="680.5" y2="263.5" stroke="#000" stroke-width="1.2" />
<line x1="743.5" y1="261" x2="743.5" y2="263.5" stroke="#000" stroke-width="1.2" />
<line x1="467.5" y1="25.8" x2="467.5" y2="128.3" stroke="#707070" stroke-width="1" />
<line x1="467.5" y1="25.8" x2="522.5" y2="25.8" stroke="#9a9a9a" stroke-width="1" />
<line x1="468.75" y1="35" x2="500" y2="35" stroke="#505050" stroke-width="2.2" />
<text x="503.75" y="40" font-size="14" text-anchor="start" fill="#000" textLength="17" lengthAdjust="spacingAndGlyphs" >R0</text>
<line x1="468.75" y1="52" x2="500" y2="52" stroke="#DC4E4E" stroke-width="2.2" />
<text x="503.75" y="57" font-size="14" text-anchor="start" fill="#000" textLength="17" lengthAdjust="spacingAndGlyphs" >R1</text>
<line x1="468.75" y1="68.7" x2="500" y2="68.7" stroke="#2F6ECC" stroke-width="2.2" />
<text x="503.75" y="73.7" font-size="14" text-anchor="start" fill="#000" textLength="17" lengthAdjust="spacingAndGlyphs" >R2</text>
<line x1="468.75" y1="85.3" x2="500" y2="85.3" stroke="#3A9E66" stroke-width="2.2" />
<text x="503.75" y="90.3" font-size="14" text-anchor="start" fill="#000" textLength="17" lengthAdjust="spacingAndGlyphs" >R3</text>
<line x1="468.75" y1="102.2" x2="500" y2="102.2" stroke="#AC7ADC" stroke-width="2.2" />
<text x="503.75" y="107.2" font-size="14" text-anchor="start" fill="#000" textLength="17" lengthAdjust="spacingAndGlyphs" >R4</text>
<line x1="468.75" y1="119.2" x2="500" y2="119.2" stroke="#C6A030" stroke-width="2.2" />
<text x="503.75" y="124.2" font-size="14" text-anchor="start" fill="#000" textLength="17" lengthAdjust="spacingAndGlyphs" >R5</text>
<text x="427.4" y="138.4" font-size="22" text-anchor="middle" fill="#000" textLength="104" lengthAdjust="spacingAndGlyphs" transform="rotate(-90 427.4 138.4)" >Stress\MPa</text>
<text x="617.3" y="305.3" font-size="21" text-anchor="middle" fill="#000" textLength="75.4" lengthAdjust="spacingAndGlyphs" >Strain\%</text>
<text x="403" y="43.3" font-size="36" text-anchor="start" fill="#000" textLength="18" lengthAdjust="spacingAndGlyphs" stroke="#000" stroke-width="0.35">b</text>
<rect x="868.85" y="83.33" width="21.4" height="179.47" fill="#EBA9F7" stroke="#000" stroke-width="1.6" />
<rect x="890.25" y="141.33" width="21.4" height="121.47" fill="#B9E2F8" stroke="#000" stroke-width="1.6" />
<rect x="922.75" y="123.58" width="21.4" height="139.22" fill="#EBA9F7" stroke="#000" stroke-width="1.6" />
<rect x="944.15" y="183.05" width="21.4" height="79.75" fill="#B9E2F8" stroke="#000" stroke-width="1.6" />
<rect x="976.65" y="122.1" width="21.4" height="140.7" fill="#EBA9F7" stroke="#000" stroke-width="1.6" />
<rect x="998.05" y="148.03" width="21.4" height="114.77" fill="#B9E2F8" stroke="#000" stroke-width="1.6" />
<rect x="1030.55" y="127.34" width="21.4" height="135.46" fill="#EBA9F7" stroke="#000" stroke-width="1.6" />
<rect x="1051.95" y="134.05" width="21.4" height="128.75" fill="#B9E2F8" stroke="#000" stroke-width="1.6" />
<rect x="1084.45" y="121.86" width="21.4" height="140.94" fill="#EBA9F7" stroke="#000" stroke-width="1.6" />
<rect x="1105.85" y="132.33" width="21.4" height="130.47" fill="#B9E2F8" stroke="#000" stroke-width="1.6" />
<rect x="1138.35" y="79.16" width="21.4" height="183.64" fill="#EBA9F7" stroke="#000" stroke-width="1.6" />
<rect x="1159.75" y="123.82" width="21.4" height="138.98" fill="#B9E2F8" stroke="#000" stroke-width="1.6" />
<line x1="879.55" y1="69.3" x2="879.55" y2="97" stroke="#000" stroke-width="1.5" />
<line x1="876.95" y1="69.3" x2="882.15" y2="69.3" stroke="#000" stroke-width="1.5" />
<line x1="876.95" y1="97" x2="882.15" y2="97" stroke="#000" stroke-width="1.5" />
<line x1="900.95" y1="127.75" x2="900.95" y2="155" stroke="#000" stroke-width="1.5" />
<line x1="898.35" y1="127.75" x2="903.55" y2="127.75" stroke="#000" stroke-width="1.5" />
<line x1="898.35" y1="155" x2="903.55" y2="155" stroke="#000" stroke-width="1.5" />
<line x1="933.45" y1="99.75" x2="933.45" y2="147" stroke="#000" stroke-width="1.5" />
<line x1="930.85" y1="99.75" x2="936.05" y2="99.75" stroke="#000" stroke-width="1.5" />
<line x1="930.85" y1="147" x2="936.05" y2="147" stroke="#000" stroke-width="1.5" />
<line x1="954.85" y1="158" x2="954.85" y2="207" stroke="#000" stroke-width="1.5" />
<line x1="952.25" y1="158" x2="957.45" y2="158" stroke="#000" stroke-width="1.5" />
<line x1="952.25" y1="207" x2="957.45" y2="207" stroke="#000" stroke-width="1.5" />
<line x1="987.35" y1="93.8" x2="987.35" y2="150.5" stroke="#000" stroke-width="1.5" />
<line x1="984.75" y1="93.8" x2="989.95" y2="93.8" stroke="#000" stroke-width="1.5" />
<line x1="984.75" y1="150.5" x2="989.95" y2="150.5" stroke="#000" stroke-width="1.5" />
<line x1="1008.75" y1="114.8" x2="1008.75" y2="182" stroke="#000" stroke-width="1.5" />
<line x1="1006.15" y1="114.8" x2="1011.35" y2="114.8" stroke="#000" stroke-width="1.5" />
<line x1="1006.15" y1="182" x2="1011.35" y2="182" stroke="#000" stroke-width="1.5" />
<line x1="1041.25" y1="104.3" x2="1041.25" y2="150.5" stroke="#000" stroke-width="1.5" />
<line x1="1038.65" y1="104.3" x2="1043.85" y2="104.3" stroke="#000" stroke-width="1.5" />
<line x1="1038.65" y1="150.5" x2="1043.85" y2="150.5" stroke="#000" stroke-width="1.5" />
<line x1="1062.65" y1="92.75" x2="1062.65" y2="175" stroke="#000" stroke-width="1.5" />
<line x1="1060.05" y1="92.75" x2="1065.25" y2="92.75" stroke="#000" stroke-width="1.5" />
<line x1="1060.05" y1="175" x2="1065.25" y2="175" stroke="#000" stroke-width="1.5" />
<line x1="1095.15" y1="112.7" x2="1095.15" y2="130.2" stroke="#000" stroke-width="1.5" />
<line x1="1092.55" y1="112.7" x2="1097.75" y2="112.7" stroke="#000" stroke-width="1.5" />
<line x1="1092.55" y1="130.2" x2="1097.75" y2="130.2" stroke="#000" stroke-width="1.5" />
<line x1="1116.55" y1="110.25" x2="1116.55" y2="152.6" stroke="#000" stroke-width="1.5" />
<line x1="1113.95" y1="110.25" x2="1119.15" y2="110.25" stroke="#000" stroke-width="1.5" />
<line x1="1113.95" y1="152.6" x2="1119.15" y2="152.6" stroke="#000" stroke-width="1.5" />
<line x1="1149.05" y1="75.25" x2="1149.05" y2="81.5" stroke="#000" stroke-width="1.5" />
<line x1="1146.45" y1="75.25" x2="1151.65" y2="75.25" stroke="#000" stroke-width="1.5" />
<line x1="1146.45" y1="81.5" x2="1151.65" y2="81.5" stroke="#000" stroke-width="1.5" />
<line x1="1170.45" y1="114.8" x2="1170.45" y2="133" stroke="#000" stroke-width="1.5" />
<line x1="1167.85" y1="114.8" x2="1173.05" y2="114.8" stroke="#000" stroke-width="1.5" />
<line x1="1167.85" y1="133" x2="1173.05" y2="133" stroke="#000" stroke-width="1.5" />
<rect x="863.3" y="17.4" width="323.7" height="245.4" fill="none" stroke="#000" stroke-width="1.6"/>
<line x1="858.8" y1="262.8" x2="863.3" y2="262.8" stroke="#000" stroke-width="1.4" />
<text x="854" y="268.53" font-size="16" text-anchor="end" fill="#000" >0</text>
<line x1="858.8" y1="221.9" x2="863.3" y2="221.9" stroke="#000" stroke-width="1.4" />
<text x="854" y="227.63" font-size="16" text-anchor="end" fill="#000" >50</text>
<line x1="858.8" y1="181" x2="863.3" y2="181" stroke="#000" stroke-width="1.4" />
<text x="854" y="186.73" font-size="16" text-anchor="end" fill="#000" >100</text>
<line x1="858.8" y1="140.1" x2="863.3" y2="140.1" stroke="#000" stroke-width="1.4" />
<text x="854" y="145.83" font-size="16" text-anchor="end" fill="#000" >150</text>
<line x1="858.8" y1="99.2" x2="863.3" y2="99.2" stroke="#000" stroke-width="1.4" />
<text x="854" y="104.93" font-size="16" text-anchor="end" fill="#000" >200</text>
<line x1="858.8" y1="58.3" x2="863.3" y2="58.3" stroke="#000" stroke-width="1.4" />
<text x="854" y="64.03" font-size="16" text-anchor="end" fill="#000" >250</text>
<line x1="858.8" y1="17.4" x2="863.3" y2="17.4" stroke="#000" stroke-width="1.4" />
<text x="854" y="23.13" font-size="16" text-anchor="end" fill="#000" >300</text>
<line x1="860.8" y1="242.35" x2="863.3" y2="242.35" stroke="#000" stroke-width="1.2" />
<line x1="860.8" y1="201.45" x2="863.3" y2="201.45" stroke="#000" stroke-width="1.2" />
<line x1="860.8" y1="160.55" x2="863.3" y2="160.55" stroke="#000" stroke-width="1.2" />
<line x1="860.8" y1="119.65" x2="863.3" y2="119.65" stroke="#000" stroke-width="1.2" />
<line x1="860.8" y1="78.75" x2="863.3" y2="78.75" stroke="#000" stroke-width="1.2" />
<line x1="860.8" y1="37.85" x2="863.3" y2="37.85" stroke="#000" stroke-width="1.2" />
<line x1="890.25" y1="262.8" x2="890.25" y2="267.3" stroke="#000" stroke-width="1.4" />
<text x="890.25" y="284" font-size="16" text-anchor="middle" fill="#000" >R0</text>
<line x1="944.15" y1="262.8" x2="944.15" y2="267.3" stroke="#000" stroke-width="1.4" />
<text x="944.15" y="284" font-size="16" text-anchor="middle" fill="#000" >R1</text>
<line x1="998.05" y1="262.8" x2="998.05" y2="267.3" stroke="#000" stroke-width="1.4" />
<text x="998.05" y="284" font-size="16" text-anchor="middle" fill="#000" >R2</text>
<line x1="1051.95" y1="262.8" x2="1051.95" y2="267.3" stroke="#000" stroke-width="1.4" />
<text x="1051.95" y="284" font-size="16" text-anchor="middle" fill="#000" >R3</text>
<line x1="1105.85" y1="262.8" x2="1105.85" y2="267.3" stroke="#000" stroke-width="1.4" />
<text x="1105.85" y="284" font-size="16" text-anchor="middle" fill="#000" >R4</text>
<line x1="1159.75" y1="262.8" x2="1159.75" y2="267.3" stroke="#000" stroke-width="1.4" />
<text x="1159.75" y="284" font-size="16" text-anchor="middle" fill="#000" >R5</text>
<line x1="917.2" y1="262.8" x2="917.2" y2="265.3" stroke="#000" stroke-width="1.2" />
<line x1="971.1" y1="262.8" x2="971.1" y2="265.3" stroke="#000" stroke-width="1.2" />
<line x1="1025" y1="262.8" x2="1025" y2="265.3" stroke="#000" stroke-width="1.2" />
<line x1="1078.9" y1="262.8" x2="1078.9" y2="265.3" stroke="#000" stroke-width="1.2" />
<line x1="1132.8" y1="262.8" x2="1132.8" y2="265.3" stroke="#000" stroke-width="1.2" />
<rect x="1114.2" y="26.2" width="34.6" height="16.5" fill="#EBA9F7" stroke="#000" stroke-width="2" />
<rect x="1114.2" y="45" width="34.6" height="17.3" fill="#B9E2F8" stroke="#000" stroke-width="2" />
<line x1="1112.7" y1="24.2" x2="1178.5" y2="24.2" stroke="#bdbdbd" stroke-width="1.2" />
<line x1="1178.5" y1="24.2" x2="1178.5" y2="63.5" stroke="#9a9a9a" stroke-width="1" />
<text x="1153" y="40" font-size="15" text-anchor="start" fill="#000" textLength="21.6" lengthAdjust="spacingAndGlyphs" >W1</text>
<text x="1153" y="58.8" font-size="15" text-anchor="start" fill="#000" textLength="21.6" lengthAdjust="spacingAndGlyphs" >W3</text>
<text x="820.3" y="138.9" font-size="21" text-anchor="middle" fill="#000" textLength="240.4" lengthAdjust="spacingAndGlyphs" transform="rotate(-90 820.3 138.9)" >modulus of elasticity/MPa</text>
<text x="1025.1" y="307.5" font-size="21" text-anchor="middle" fill="#000" textLength="166" lengthAdjust="spacingAndGlyphs" >Number of reuses</text>
<text x="786" y="36.8" font-size="36.5" text-anchor="start" fill="#000" textLength="15.7" lengthAdjust="spacingAndGlyphs" stroke="#000" stroke-width="0.35">c</text>
<rect x="78.9" y="351.15" width="21.6" height="195.45" fill="#F8C597" stroke="#000" stroke-width="1.6" />
<rect x="100.5" y="421.56" width="21.6" height="125.04" fill="#9ED79F" stroke="#000" stroke-width="1.6" />
<rect x="131.95" y="392.7" width="21.6" height="153.9" fill="#F8C597" stroke="#000" stroke-width="1.6" />
<rect x="153.55" y="452.34" width="21.6" height="94.26" fill="#9ED79F" stroke="#000" stroke-width="1.6" />
<rect x="185" y="415.4" width="21.6" height="131.2" fill="#F8C597" stroke="#000" stroke-width="1.6" />
<rect x="206.6" y="461.95" width="21.6" height="84.65" fill="#9ED79F" stroke="#000" stroke-width="1.6" />
<rect x="238.05" y="418.48" width="21.6" height="128.12" fill="#F8C597" stroke="#000" stroke-width="1.6" />
<rect x="259.65" y="465.42" width="21.6" height="81.18" fill="#9ED79F" stroke="#000" stroke-width="1.6" />
<rect x="291.1" y="416.55" width="21.6" height="130.05" fill="#F8C597" stroke="#000" stroke-width="1.6" />
<rect x="312.7" y="468.11" width="21.6" height="78.49" fill="#9ED79F" stroke="#000" stroke-width="1.6" />
<rect x="344.15" y="422.71" width="21.6" height="123.89" fill="#F8C597" stroke="#000" stroke-width="1.6" />
<rect x="365.75" y="469.65" width="21.6" height="76.95" fill="#9ED79F" stroke="#000" stroke-width="1.6" />
<line x1="89.7" y1="338" x2="89.7" y2="364" stroke="#000" stroke-width="1.5" />
<line x1="87" y1="338" x2="92.4" y2="338" stroke="#000" stroke-width="1.6" />
<line x1="87" y1="364" x2="92.4" y2="364" stroke="#000" stroke-width="1.6" />
<line x1="111.3" y1="413.75" x2="111.3" y2="428.8" stroke="#000" stroke-width="1.5" />
<line x1="108.6" y1="413.75" x2="114" y2="413.75" stroke="#000" stroke-width="1.6" />
<line x1="108.6" y1="428.8" x2="114" y2="428.8" stroke="#000" stroke-width="1.6" />
<line x1="142.75" y1="377.7" x2="142.75" y2="407.8" stroke="#000" stroke-width="1.5" />
<line x1="140.05" y1="377.7" x2="145.45" y2="377.7" stroke="#000" stroke-width="1.6" />
<line x1="140.05" y1="407.8" x2="145.45" y2="407.8" stroke="#000" stroke-width="1.6" />
<line x1="164.35" y1="450.5" x2="164.35" y2="454" stroke="#000" stroke-width="1.5" />
<line x1="161.65" y1="450.5" x2="167.05" y2="450.5" stroke="#000" stroke-width="1.6" />
<line x1="161.65" y1="454" x2="167.05" y2="454" stroke="#000" stroke-width="1.6" />
<line x1="195.8" y1="403.6" x2="195.8" y2="427.75" stroke="#000" stroke-width="1.5" />
<line x1="193.1" y1="403.6" x2="198.5" y2="403.6" stroke="#000" stroke-width="1.6" />
<line x1="193.1" y1="427.75" x2="198.5" y2="427.75" stroke="#000" stroke-width="1.6" />
<line x1="217.4" y1="458.5" x2="217.4" y2="464.5" stroke="#000" stroke-width="1.5" />
<line x1="214.7" y1="458.5" x2="220.1" y2="458.5" stroke="#000" stroke-width="1.6" />
<line x1="214.7" y1="464.5" x2="220.1" y2="464.5" stroke="#000" stroke-width="1.6" />
<line x1="248.85" y1="393.8" x2="248.85" y2="442.8" stroke="#000" stroke-width="1.5" />
<line x1="246.15" y1="393.8" x2="251.55" y2="393.8" stroke="#000" stroke-width="1.6" />
<line x1="246.15" y1="442.8" x2="251.55" y2="442.8" stroke="#000" stroke-width="1.6" />
<line x1="270.45" y1="459.6" x2="270.45" y2="470.8" stroke="#000" stroke-width="1.5" />
<line x1="267.75" y1="459.6" x2="273.15" y2="459.6" stroke="#000" stroke-width="1.6" />
<line x1="267.75" y1="470.8" x2="273.15" y2="470.8" stroke="#000" stroke-width="1.6" />
<line x1="301.9" y1="410.6" x2="301.9" y2="423.2" stroke="#000" stroke-width="1.5" />
<line x1="299.2" y1="410.6" x2="304.6" y2="410.6" stroke="#000" stroke-width="1.6" />
<line x1="299.2" y1="423.2" x2="304.6" y2="423.2" stroke="#000" stroke-width="1.6" />
<line x1="323.5" y1="462" x2="323.5" y2="474" stroke="#000" stroke-width="1.5" />
<line x1="320.8" y1="462" x2="326.2" y2="462" stroke="#000" stroke-width="1.6" />
<line x1="320.8" y1="474" x2="326.2" y2="474" stroke="#000" stroke-width="1.6" />
<line x1="354.95" y1="419" x2="354.95" y2="425.3" stroke="#000" stroke-width="1.5" />
<line x1="352.25" y1="419" x2="357.65" y2="419" stroke="#000" stroke-width="1.6" />
<line x1="352.25" y1="425.3" x2="357.65" y2="425.3" stroke="#000" stroke-width="1.6" />
<line x1="376.55" y1="467.3" x2="376.55" y2="471.5" stroke="#000" stroke-width="1.5" />
<line x1="373.85" y1="467.3" x2="379.25" y2="467.3" stroke="#000" stroke-width="1.6" />
<line x1="373.85" y1="471.5" x2="379.25" y2="471.5" stroke="#000" stroke-width="1.6" />
<rect x="73.8" y="315.75" width="318.8" height="230.85" fill="none" stroke="#000" stroke-width="1.6"/>
<line x1="69.3" y1="546.6" x2="73.8" y2="546.6" stroke="#000" stroke-width="1.4" />
<text x="65" y="552.33" font-size="16" text-anchor="end" fill="#000" >0</text>
<line x1="69.3" y1="508.12" x2="73.8" y2="508.12" stroke="#000" stroke-width="1.4" />
<text x="65" y="513.85" font-size="16" text-anchor="end" fill="#000" >1</text>
<line x1="69.3" y1="469.65" x2="73.8" y2="469.65" stroke="#000" stroke-width="1.4" />
<text x="65" y="475.38" font-size="16" text-anchor="end" fill="#000" >2</text>
<line x1="69.3" y1="431.18" x2="73.8" y2="431.18" stroke="#000" stroke-width="1.4" />
<text x="65" y="436.9" font-size="16" text-anchor="end" fill="#000" >3</text>
<line x1="69.3" y1="392.7" x2="73.8" y2="392.7" stroke="#000" stroke-width="1.4" />
<text x="65" y="398.43" font-size="16" text-anchor="end" fill="#000" >4</text>
<line x1="69.3" y1="354.23" x2="73.8" y2="354.23" stroke="#000" stroke-width="1.4" />
<text x="65" y="359.95" font-size="16" text-anchor="end" fill="#000" >5</text>
<line x1="69.3" y1="315.75" x2="73.8" y2="315.75" stroke="#000" stroke-width="1.4" />
<text x="65" y="321.48" font-size="16" text-anchor="end" fill="#000" >6</text>
<line x1="71.3" y1="527.36" x2="73.8" y2="527.36" stroke="#000" stroke-width="1.2" />
<line x1="71.3" y1="488.89" x2="73.8" y2="488.89" stroke="#000" stroke-width="1.2" />
<line x1="71.3" y1="450.41" x2="73.8" y2="450.41" stroke="#000" stroke-width="1.2" />
<line x1="71.3" y1="411.94" x2="73.8" y2="411.94" stroke="#000" stroke-width="1.2" />
<line x1="71.3" y1="373.46" x2="73.8" y2="373.46" stroke="#000" stroke-width="1.2" />
<line x1="71.3" y1="334.99" x2="73.8" y2="334.99" stroke="#000" stroke-width="1.2" />
<line x1="100.5" y1="546.6" x2="100.5" y2="551.1" stroke="#000" stroke-width="1.4" />
<text x="100.5" y="567" font-size="16" text-anchor="middle" fill="#000" >R0</text>
<line x1="153.55" y1="546.6" x2="153.55" y2="551.1" stroke="#000" stroke-width="1.4" />
<text x="153.55" y="567" font-size="16" text-anchor="middle" fill="#000" >R1</text>
<line x1="206.6" y1="546.6" x2="206.6" y2="551.1" stroke="#000" stroke-width="1.4" />
<text x="206.6" y="567" font-size="16" text-anchor="middle" fill="#000" >R2</text>
<line x1="259.65" y1="546.6" x2="259.65" y2="551.1" stroke="#000" stroke-width="1.4" />
<text x="259.65" y="567" font-size="16" text-anchor="middle" fill="#000" >R3</text>
<line x1="312.7" y1="546.6" x2="312.7" y2="551.1" stroke="#000" stroke-width="1.4" />
<text x="312.7" y="567" font-size="16" text-anchor="middle" fill="#000" >R4</text>
<line x1="365.75" y1="546.6" x2="365.75" y2="551.1" stroke="#000" stroke-width="1.4" />
<text x="365.75" y="567" font-size="16" text-anchor="middle" fill="#000" >R5</text>
<line x1="127.03" y1="546.6" x2="127.03" y2="549.1" stroke="#000" stroke-width="1.2" />
<line x1="180.07" y1="546.6" x2="180.07" y2="549.1" stroke="#000" stroke-width="1.2" />
<line x1="233.12" y1="546.6" x2="233.12" y2="549.1" stroke="#000" stroke-width="1.2" />
<line x1="286.17" y1="546.6" x2="286.17" y2="549.1" stroke="#000" stroke-width="1.2" />
<line x1="339.23" y1="546.6" x2="339.23" y2="549.1" stroke="#000" stroke-width="1.2" />
<rect x="323.75" y="322.75" width="31.5" height="15.75" fill="#F8C597" stroke="#000" stroke-width="1.6" />
<rect x="323.75" y="341.3" width="31.5" height="15.4" fill="#9ED79F" stroke="#000" stroke-width="1.6" />
<line x1="322.5" y1="321" x2="383.25" y2="321" stroke="#bdbdbd" stroke-width="1.1" />
<line x1="383.25" y1="321" x2="383.25" y2="357.75" stroke="#9a9a9a" stroke-width="1" />
<line x1="322.5" y1="357.75" x2="383.25" y2="357.75" stroke="#bdbdbd" stroke-width="1" />
<text x="360.4" y="335.8" font-size="15.5" text-anchor="start" fill="#000" textLength="19.6" lengthAdjust="spacingAndGlyphs" >W1</text>
<text x="360.4" y="353.6" font-size="15.5" text-anchor="start" fill="#000" textLength="19.6" lengthAdjust="spacingAndGlyphs" >W3</text>
<text x="52" y="431.3" font-size="22" text-anchor="middle" fill="#000" textLength="196" lengthAdjust="spacingAndGlyphs" transform="rotate(-90 52 431.3)" >tensile strength/kN·m<tspan dy="-9" font-size="14">-1</tspan></text>
<text x="233.3" y="589.6" font-size="20" text-anchor="middle" fill="#000" textLength="157.5" lengthAdjust="spacingAndGlyphs" >Number of reuses</text>
<text x="29" y="322.7" font-size="36" text-anchor="start" fill="#000" textLength="18.5" lengthAdjust="spacingAndGlyphs" stroke="#000" stroke-width="0.35">d</text>
<polyline points="492.7,341.3 546.05,412.7 599.4,451.55 652.75,456.5 706.1,454 759.45,462.75" fill="none" stroke="#333" stroke-width="1.5" stroke-linejoin="round" />
<line x1="492.7" y1="323.5" x2="492.7" y2="359.5" stroke="#666" stroke-width="1.2" />
<line x1="490.2" y1="323.5" x2="495.2" y2="323.5" stroke="#666" stroke-width="1.2" />
<line x1="490.2" y1="359.5" x2="495.2" y2="359.5" stroke="#666" stroke-width="1.2" />
<line x1="546.05" y1="388.2" x2="546.05" y2="437.9" stroke="#666" stroke-width="1.2" />
<line x1="543.55" y1="388.2" x2="548.55" y2="388.2" stroke="#666" stroke-width="1.2" />
<line x1="543.55" y1="437.9" x2="548.55" y2="437.9" stroke="#666" stroke-width="1.2" />
<line x1="599.4" y1="432.3" x2="599.4" y2="470.8" stroke="#666" stroke-width="1.2" />
<line x1="596.9" y1="432.3" x2="601.9" y2="432.3" stroke="#666" stroke-width="1.2" />
<line x1="596.9" y1="470.8" x2="601.9" y2="470.8" stroke="#666" stroke-width="1.2" />
<line x1="652.75" y1="431.25" x2="652.75" y2="482" stroke="#666" stroke-width="1.2" />
<line x1="650.25" y1="431.25" x2="655.25" y2="431.25" stroke="#666" stroke-width="1.2" />
<line x1="650.25" y1="482" x2="655.25" y2="482" stroke="#666" stroke-width="1.2" />
<line x1="706.1" y1="445.25" x2="706.1" y2="462.75" stroke="#666" stroke-width="1.2" />
<line x1="703.6" y1="445.25" x2="708.6" y2="445.25" stroke="#666" stroke-width="1.2" />
<line x1="703.6" y1="462.75" x2="708.6" y2="462.75" stroke="#666" stroke-width="1.2" />
<line x1="759.45" y1="456.8" x2="759.45" y2="469" stroke="#666" stroke-width="1.2" />
<line x1="756.95" y1="456.8" x2="761.95" y2="456.8" stroke="#666" stroke-width="1.2" />
<line x1="756.95" y1="469" x2="761.95" y2="469" stroke="#666" stroke-width="1.2" />
<rect x="490.5" y="339.1" width="4.4" height="4.4" fill="#000" stroke="none" stroke-width="0" />
<rect x="543.85" y="410.5" width="4.4" height="4.4" fill="#000" stroke="none" stroke-width="0" />
<rect x="597.2" y="449.35" width="4.4" height="4.4" fill="#000" stroke="none" stroke-width="0" />
<rect x="650.55" y="454.3" width="4.4" height="4.4" fill="#000" stroke="none" stroke-width="0" />
<rect x="703.9" y="451.8" width="4.4" height="4.4" fill="#000" stroke="none" stroke-width="0" />
<rect x="757.25" y="460.55" width="4.4" height="4.4" fill="#000" stroke="none" stroke-width="0" />
<polyline points="492.7,461.7 546.05,514.2 599.4,530.3 652.75,535.6 706.1,540.8 759.45,543.25" fill="none" stroke="#D03838" stroke-width="1.5" stroke-linejoin="round" />
<line x1="492.7" y1="448" x2="492.7" y2="474.3" stroke="#E07070" stroke-width="1.2" />
<line x1="490.2" y1="448" x2="495.2" y2="448" stroke="#E07070" stroke-width="1.2" />
<line x1="490.2" y1="474.3" x2="495.2" y2="474.3" stroke="#E07070" stroke-width="1.2" />
<line x1="546.05" y1="511.75" x2="546.05" y2="517" stroke="#E07070" stroke-width="1.2" />
<line x1="543.55" y1="511.75" x2="548.55" y2="511.75" stroke="#E07070" stroke-width="1.2" />
<line x1="543.55" y1="517" x2="548.55" y2="517" stroke="#E07070" stroke-width="1.2" />
<line x1="599.4" y1="525.75" x2="599.4" y2="535.2" stroke="#E07070" stroke-width="1.2" />
<line x1="596.9" y1="525.75" x2="601.9" y2="525.75" stroke="#E07070" stroke-width="1.2" />
<line x1="596.9" y1="535.2" x2="601.9" y2="535.2" stroke="#E07070" stroke-width="1.2" />
<line x1="652.75" y1="526.8" x2="652.75" y2="544.3" stroke="#E07070" stroke-width="1.2" />
<line x1="650.25" y1="526.8" x2="655.25" y2="526.8" stroke="#E07070" stroke-width="1.2" />
<line x1="650.25" y1="544.3" x2="655.25" y2="544.3" stroke="#E07070" stroke-width="1.2" />
<line x1="706.1" y1="530.3" x2="706.1" y2="551" stroke="#E07070" stroke-width="1.2" />
<line x1="703.6" y1="530.3" x2="708.6" y2="530.3" stroke="#E07070" stroke-width="1.2" />
<line x1="703.6" y1="551" x2="708.6" y2="551" stroke="#E07070" stroke-width="1.2" />
<line x1="759.45" y1="539" x2="759.45" y2="547.5" stroke="#E07070" stroke-width="1.2" />
<line x1="756.95" y1="539" x2="761.95" y2="539" stroke="#E07070" stroke-width="1.2" />
<line x1="756.95" y1="547.5" x2="761.95" y2="547.5" stroke="#E07070" stroke-width="1.2" />
<circle cx="492.7" cy="461.7" r="2.6" fill="#E01818"/>
<circle cx="546.05" cy="514.2" r="2.6" fill="#E01818"/>
<circle cx="599.4" cy="530.3" r="2.6" fill="#E01818"/>
<circle cx="652.75" cy="535.6" r="2.6" fill="#E01818"/>
<circle cx="706.1" cy="540.8" r="2.6" fill="#E01818"/>
<circle cx="759.45" cy="543.25" r="2.6" fill="#E01818"/>
<rect x="466.25" y="320.8" width="319.25" height="236.2" fill="none" stroke="#000" stroke-width="1.6"/>
<line x1="461.75" y1="557" x2="466.25" y2="557" stroke="#000" stroke-width="1.4" />
<text x="458" y="562.73" font-size="16" text-anchor="end" fill="#000" >30</text>
<line x1="461.75" y1="517.63" x2="466.25" y2="517.63" stroke="#000" stroke-width="1.4" />
<text x="458" y="523.36" font-size="16" text-anchor="end" fill="#000" >40</text>
<line x1="461.75" y1="478.27" x2="466.25" y2="478.27" stroke="#000" stroke-width="1.4" />
<text x="458" y="483.99" font-size="16" text-anchor="end" fill="#000" >50</text>
<line x1="461.75" y1="438.9" x2="466.25" y2="438.9" stroke="#000" stroke-width="1.4" />
<text x="458" y="444.63" font-size="16" text-anchor="end" fill="#000" >60</text>
<line x1="461.75" y1="399.53" x2="466.25" y2="399.53" stroke="#000" stroke-width="1.4" />
<text x="458" y="405.26" font-size="16" text-anchor="end" fill="#000" >70</text>
<line x1="461.75" y1="360.17" x2="466.25" y2="360.17" stroke="#000" stroke-width="1.4" />
<text x="458" y="365.89" font-size="16" text-anchor="end" fill="#000" >80</text>
<line x1="461.75" y1="320.8" x2="466.25" y2="320.8" stroke="#000" stroke-width="1.4" />
<text x="458" y="326.53" font-size="16" text-anchor="end" fill="#000" >90</text>
<line x1="463.75" y1="537.32" x2="466.25" y2="537.32" stroke="#000" stroke-width="1.2" />
<line x1="463.75" y1="497.95" x2="466.25" y2="497.95" stroke="#000" stroke-width="1.2" />
<line x1="463.75" y1="458.58" x2="466.25" y2="458.58" stroke="#000" stroke-width="1.2" />
<line x1="463.75" y1="419.22" x2="466.25" y2="419.22" stroke="#000" stroke-width="1.2" />
<line x1="463.75" y1="379.85" x2="466.25" y2="379.85" stroke="#000" stroke-width="1.2" />
<line x1="463.75" y1="340.48" x2="466.25" y2="340.48" stroke="#000" stroke-width="1.2" />
<line x1="492.7" y1="557" x2="492.7" y2="561.5" stroke="#000" stroke-width="1.4" />
<text x="492.7" y="577.5" font-size="16" text-anchor="middle" fill="#000" >R0</text>
<line x1="546.05" y1="557" x2="546.05" y2="561.5" stroke="#000" stroke-width="1.4" />
<text x="546.05" y="577.5" font-size="16" text-anchor="middle" fill="#000" >R1</text>
<line x1="599.4" y1="557" x2="599.4" y2="561.5" stroke="#000" stroke-width="1.4" />
<text x="599.4" y="577.5" font-size="16" text-anchor="middle" fill="#000" >R2</text>
<line x1="652.75" y1="557" x2="652.75" y2="561.5" stroke="#000" stroke-width="1.4" />
<text x="652.75" y="577.5" font-size="16" text-anchor="middle" fill="#000" >R3</text>
<line x1="706.1" y1="557" x2="706.1" y2="561.5" stroke="#000" stroke-width="1.4" />
<text x="706.1" y="577.5" font-size="16" text-anchor="middle" fill="#000" >R4</text>
<line x1="759.45" y1="557" x2="759.45" y2="561.5" stroke="#000" stroke-width="1.4" />
<text x="759.45" y="577.5" font-size="16" text-anchor="middle" fill="#000" >R5</text>
<line x1="519.38" y1="557" x2="519.38" y2="559.5" stroke="#000" stroke-width="1.2" />
<line x1="572.72" y1="557" x2="572.72" y2="559.5" stroke="#000" stroke-width="1.2" />
<line x1="626.08" y1="557" x2="626.08" y2="559.5" stroke="#000" stroke-width="1.2" />
<line x1="679.42" y1="557" x2="679.42" y2="559.5" stroke="#000" stroke-width="1.2" />
<line x1="732.78" y1="557" x2="732.78" y2="559.5" stroke="#000" stroke-width="1.2" />
<line x1="712" y1="331.5" x2="775" y2="331.5" stroke="#c8c8c8" stroke-width="1" />
<line x1="775" y1="331.5" x2="775" y2="368" stroke="#dddddd" stroke-width="1" />
<line x1="712" y1="341.3" x2="747" y2="341.3" stroke="#333" stroke-width="1.3" />
<rect x="727.7" y="339.5" width="3.6" height="3.6" fill="#000" stroke="none" stroke-width="0" />
<line x1="712" y1="359.5" x2="747" y2="359.5" stroke="#D83030" stroke-width="1.3" />
<circle cx="729.5" cy="359.5" r="2" fill="#E01818"/>
<text x="750.5" y="346.5" font-size="15" text-anchor="start" fill="#000" textLength="21.6" lengthAdjust="spacingAndGlyphs" >W1</text>
<text x="750.5" y="365" font-size="15" text-anchor="start" fill="#000" textLength="21.6" lengthAdjust="spacingAndGlyphs" >W3</text>
<text x="435.5" y="439" font-size="20.5" text-anchor="middle" fill="#000" textLength="113.75" lengthAdjust="spacingAndGlyphs" transform="rotate(-90 435.5 439)" >tensile index</text>
<text x="626.4" y="600.5" font-size="20" text-anchor="middle" fill="#000" textLength="162" lengthAdjust="spacingAndGlyphs" >Number of reuses</text>
<text x="405" y="324.5" font-size="36" text-anchor="start" fill="#000" textLength="20" lengthAdjust="spacingAndGlyphs" stroke="#000" stroke-width="0.35">e</text>
<polyline points="880.8,340 935.2,437 989.6,447.5 1044,452.7 1098.4,449.5 1152.8,459" fill="none" stroke="#333" stroke-width="1.5" stroke-linejoin="round" />
<line x1="880.8" y1="318.3" x2="880.8" y2="361.7" stroke="#444" stroke-width="1.3" />
<line x1="878.3" y1="318.3" x2="883.3" y2="318.3" stroke="#444" stroke-width="1.3" />
<line x1="878.3" y1="361.7" x2="883.3" y2="361.7" stroke="#444" stroke-width="1.3" />
<line x1="935.2" y1="412.5" x2="935.2" y2="461.2" stroke="#444" stroke-width="1.3" />
<line x1="932.7" y1="412.5" x2="937.7" y2="412.5" stroke="#444" stroke-width="1.3" />
<line x1="932.7" y1="461.2" x2="937.7" y2="461.2" stroke="#444" stroke-width="1.3" />
<line x1="989.6" y1="428.3" x2="989.6" y2="466.8" stroke="#444" stroke-width="1.3" />
<line x1="987.1" y1="428.3" x2="992.1" y2="428.3" stroke="#444" stroke-width="1.3" />
<line x1="987.1" y1="466.8" x2="992.1" y2="466.8" stroke="#444" stroke-width="1.3" />
<line x1="1044" y1="419.5" x2="1044" y2="485.7" stroke="#444" stroke-width="1.3" />
<line x1="1041.5" y1="419.5" x2="1046.5" y2="419.5" stroke="#444" stroke-width="1.3" />
<line x1="1041.5" y1="485.7" x2="1046.5" y2="485.7" stroke="#444" stroke-width="1.3" />
<line x1="1098.4" y1="442" x2="1098.4" y2="458.75" stroke="#444" stroke-width="1.3" />
<line x1="1095.9" y1="442" x2="1100.9" y2="442" stroke="#444" stroke-width="1.3" />
<line x1="1095.9" y1="458.75" x2="1100.9" y2="458.75" stroke="#444" stroke-width="1.3" />
<line x1="1152.8" y1="453.5" x2="1152.8" y2="464.7" stroke="#444" stroke-width="1.3" />
<line x1="1150.3" y1="453.5" x2="1155.3" y2="453.5" stroke="#444" stroke-width="1.3" />
<line x1="1150.3" y1="464.7" x2="1155.3" y2="464.7" stroke="#444" stroke-width="1.3" />
<rect x="878.6" y="337.8" width="4.4" height="4.4" fill="#000" stroke="none" stroke-width="0" />
<rect x="933" y="434.8" width="4.4" height="4.4" fill="#000" stroke="none" stroke-width="0" />
<rect x="987.4" y="445.3" width="4.4" height="4.4" fill="#000" stroke="none" stroke-width="0" />
<rect x="1041.8" y="450.5" width="4.4" height="4.4" fill="#000" stroke="none" stroke-width="0" />
<rect x="1096.2" y="447.3" width="4.4" height="4.4" fill="#000" stroke="none" stroke-width="0" />
<rect x="1150.6" y="456.8" width="4.4" height="4.4" fill="#000" stroke="none" stroke-width="0" />
<polyline points="880.8,457.7 935.2,508.8 989.6,525.25 1044,530.5 1098.4,535 1152.8,537.5" fill="none" stroke="#D03838" stroke-width="2.0" stroke-linejoin="round" />
<line x1="880.8" y1="444.75" x2="880.8" y2="471.7" stroke="#D85050" stroke-width="1.4" />
<line x1="878.3" y1="444.75" x2="883.3" y2="444.75" stroke="#D85050" stroke-width="1.4" />
<line x1="878.3" y1="471.7" x2="883.3" y2="471.7" stroke="#D85050" stroke-width="1.4" />
<line x1="935.2" y1="500" x2="935.2" y2="517" stroke="#D85050" stroke-width="1.4" />
<line x1="932.7" y1="500" x2="937.7" y2="500" stroke="#D85050" stroke-width="1.4" />
<line x1="932.7" y1="517" x2="937.7" y2="517" stroke="#D85050" stroke-width="1.4" />
<line x1="989.6" y1="518.5" x2="989.6" y2="532.6" stroke="#D85050" stroke-width="1.4" />
<line x1="987.1" y1="518.5" x2="992.1" y2="518.5" stroke="#D85050" stroke-width="1.4" />
<line x1="987.1" y1="532.6" x2="992.1" y2="532.6" stroke="#D85050" stroke-width="1.4" />
<line x1="1044" y1="521.75" x2="1044" y2="539.25" stroke="#D85050" stroke-width="1.4" />
<line x1="1041.5" y1="521.75" x2="1046.5" y2="521.75" stroke="#D85050" stroke-width="1.4" />
<line x1="1041.5" y1="539.25" x2="1046.5" y2="539.25" stroke="#D85050" stroke-width="1.4" />
<line x1="1098.4" y1="525.25" x2="1098.4" y2="544.5" stroke="#D85050" stroke-width="1.4" />
<line x1="1095.9" y1="525.25" x2="1100.9" y2="525.25" stroke="#D85050" stroke-width="1.4" />
<line x1="1095.9" y1="544.5" x2="1100.9" y2="544.5" stroke="#D85050" stroke-width="1.4" />
<line x1="1152.8" y1="533.3" x2="1152.8" y2="541.7" stroke="#D85050" stroke-width="1.4" />
<line x1="1150.3" y1="533.3" x2="1155.3" y2="533.3" stroke="#D85050" stroke-width="1.4" />
<line x1="1150.3" y1="541.7" x2="1155.3" y2="541.7" stroke="#D85050" stroke-width="1.4" />
<circle cx="880.8" cy="457.7" r="2.6" fill="#E01818"/>
<circle cx="935.2" cy="508.8" r="2.6" fill="#E01818"/>
<circle cx="989.6" cy="525.25" r="2.6" fill="#E01818"/>
<circle cx="1044" cy="530.5" r="2.6" fill="#E01818"/>
<circle cx="1098.4" cy="535" r="2.6" fill="#E01818"/>
<circle cx="1152.8" cy="537.5" r="2.6" fill="#E01818"/>
<rect x="854.2" y="308.6" width="325.6" height="244.6" fill="none" stroke="#000" stroke-width="1.6"/>
<line x1="849.7" y1="553.2" x2="854.2" y2="553.2" stroke="#000" stroke-width="1.4" />
<text x="843.5" y="558.93" font-size="16" text-anchor="end" fill="#000" >3</text>
<line x1="849.7" y1="515.45" x2="854.2" y2="515.45" stroke="#000" stroke-width="1.4" />
<text x="843.5" y="521.18" font-size="16" text-anchor="end" fill="#000" >4</text>
<line x1="849.7" y1="477.7" x2="854.2" y2="477.7" stroke="#000" stroke-width="1.4" />
<text x="843.5" y="483.43" font-size="16" text-anchor="end" fill="#000" >5</text>
<line x1="849.7" y1="439.95" x2="854.2" y2="439.95" stroke="#000" stroke-width="1.4" />
<text x="843.5" y="445.68" font-size="16" text-anchor="end" fill="#000" >6</text>
<line x1="849.7" y1="402.2" x2="854.2" y2="402.2" stroke="#000" stroke-width="1.4" />
<text x="843.5" y="407.93" font-size="16" text-anchor="end" fill="#000" >7</text>
<line x1="849.7" y1="364.45" x2="854.2" y2="364.45" stroke="#000" stroke-width="1.4" />
<text x="843.5" y="370.18" font-size="16" text-anchor="end" fill="#000" >8</text>
<line x1="849.7" y1="326.7" x2="854.2" y2="326.7" stroke="#000" stroke-width="1.4" />
<text x="843.5" y="332.43" font-size="16" text-anchor="end" fill="#000" >9</text>
<line x1="851.7" y1="534.33" x2="854.2" y2="534.33" stroke="#000" stroke-width="1.2" />
<line x1="851.7" y1="496.58" x2="854.2" y2="496.58" stroke="#000" stroke-width="1.2" />
<line x1="851.7" y1="458.83" x2="854.2" y2="458.83" stroke="#000" stroke-width="1.2" />
<line x1="851.7" y1="421.08" x2="854.2" y2="421.08" stroke="#000" stroke-width="1.2" />
<line x1="851.7" y1="383.33" x2="854.2" y2="383.33" stroke="#000" stroke-width="1.2" />
<line x1="851.7" y1="345.58" x2="854.2" y2="345.58" stroke="#000" stroke-width="1.2" />
<line x1="851.7" y1="307.83" x2="854.2" y2="307.83" stroke="#000" stroke-width="1.2" />
<line x1="880.8" y1="553.2" x2="880.8" y2="557.7" stroke="#000" stroke-width="1.4" />
<text x="880.8" y="574.8" font-size="16" text-anchor="middle" fill="#000" >R0</text>
<line x1="935.2" y1="553.2" x2="935.2" y2="557.7" stroke="#000" stroke-width="1.4" />
<text x="935.2" y="574.8" font-size="16" text-anchor="middle" fill="#000" >R1</text>
<line x1="989.6" y1="553.2" x2="989.6" y2="557.7" stroke="#000" stroke-width="1.4" />
<text x="989.6" y="574.8" font-size="16" text-anchor="middle" fill="#000" >R2</text>
<line x1="1044" y1="553.2" x2="1044" y2="557.7" stroke="#000" stroke-width="1.4" />
<text x="1044" y="574.8" font-size="16" text-anchor="middle" fill="#000" >R3</text>
<line x1="1098.4" y1="553.2" x2="1098.4" y2="557.7" stroke="#000" stroke-width="1.4" />
<text x="1098.4" y="574.8" font-size="16" text-anchor="middle" fill="#000" >R4</text>
<line x1="1152.8" y1="553.2" x2="1152.8" y2="557.7" stroke="#000" stroke-width="1.4" />
<text x="1152.8" y="574.8" font-size="16" text-anchor="middle" fill="#000" >R5</text>
<line x1="908" y1="553.2" x2="908" y2="555.7" stroke="#000" stroke-width="1.2" />
<line x1="962.4" y1="553.2" x2="962.4" y2="555.7" stroke="#000" stroke-width="1.2" />
<line x1="1016.8" y1="553.2" x2="1016.8" y2="555.7" stroke="#000" stroke-width="1.2" />
<line x1="1071.2" y1="553.2" x2="1071.2" y2="555.7" stroke="#000" stroke-width="1.2" />
<line x1="1125.6" y1="553.2" x2="1125.6" y2="555.7" stroke="#000" stroke-width="1.2" />
<line x1="1106.5" y1="317.25" x2="1106.5" y2="357.5" stroke="#c8c8c8" stroke-width="1" />
<line x1="1106.5" y1="317.25" x2="1171.3" y2="317.25" stroke="#dddddd" stroke-width="1" />
<line x1="1107" y1="328.5" x2="1144" y2="328.5" stroke="#333" stroke-width="1.3" />
<rect x="1123.7" y="326.7" width="3.6" height="3.6" fill="#000" stroke="none" stroke-width="0" />
<line x1="1107" y1="347" x2="1144" y2="347" stroke="#D83030" stroke-width="1.3" />
<circle cx="1125.5" cy="347" r="2" fill="#E01818"/>
<text x="1146.8" y="334" font-size="15" text-anchor="start" fill="#000" textLength="21.6" lengthAdjust="spacingAndGlyphs" >W1</text>
<text x="1146.8" y="352.5" font-size="15" text-anchor="start" fill="#000" textLength="21.6" lengthAdjust="spacingAndGlyphs" >W3</text>
<text x="828.8" y="430.2" font-size="21" text-anchor="middle" fill="#000" textLength="177.4" lengthAdjust="spacingAndGlyphs" transform="rotate(-90 828.8 430.2)" >breaking length/km</text>
<text x="1017.25" y="598.7" font-size="20" text-anchor="middle" fill="#000" textLength="167" lengthAdjust="spacingAndGlyphs" >Number of reuses</text>
<text x="803.5" y="323.8" font-size="36" text-anchor="start" fill="#000" textLength="13" lengthAdjust="spacingAndGlyphs" stroke="#000" stroke-width="0.35">f</text>
<rect x="55.9" y="604.8" width="155.1" height="154.5" fill="#1EA4C6" stroke="none" stroke-width="0" />
<polygon points="80.5,604.8 118.4,604.8 119,759.3 83.5,759.3" fill="#D6D2D1"/>
<polygon points="161.5,604.8 200.2,604.8 195.8,759.3 159.3,759.3" fill="#D6D2D1"/>
<polyline points="161.5,686.4 170,687 180,687.5 190,688 196,689.7" fill="none" stroke="#2f93bf" stroke-width="1.2" stroke-linejoin="round" />
<rect x="250.3" y="604.8" width="155.6" height="154.5" fill="#18A2C8" stroke="none" stroke-width="0" />
<polygon points="300,604.8 355,604.8 356,759.3 301,759.3" fill="#0C9ECC"/>
<polygon points="263.3,604.8 300.3,604.8 301.4,759.3 267.7,759.3" fill="#CFCBC9"/>
<polygon points="354,604.8 392.8,604.8 391.7,759.3 355.4,759.3" fill="#CFCBC9"/>
<polyline points="355,688.6 362,684 370,682 378,679 392,677.3" fill="none" stroke="#2f93bf" stroke-width="1.2" stroke-linejoin="round" />
<rect x="855.4" y="606.3" width="114.8" height="146" fill="#5AAFD3" stroke="none" stroke-width="0" />
<rect x="871.6" y="607.8" width="26.4" height="143" fill="#F6F6F6" stroke="none" stroke-width="0" />
<rect x="927.1" y="607.8" width="26.1" height="143" fill="#F6F6F6" stroke="none" stroke-width="0" />
<polyline points="927.1,678.6 940,678.8 953.2,679" fill="none" stroke="#5aaed3" stroke-width="1" stroke-linejoin="round" />
<rect x="1024.6" y="606.9" width="115" height="145.4" fill="#5AAFD3" stroke="none" stroke-width="0" />
<rect x="1042.4" y="608.4" width="24.7" height="142.4" fill="#F6F6F6" stroke="none" stroke-width="0" />
<rect x="1094.3" y="608.4" width="24.7" height="142.4" fill="#F6F6F6" stroke="none" stroke-width="0" />
<polyline points="1094.3,678.6 1100,677.6 1108,676.2 1119,675.8" fill="none" stroke="#5aaed3" stroke-width="1" stroke-linejoin="round" />
<clipPath id="c1"><rect x="426.3" y="605.25" width="192.5" height="145.95"/></clipPath>
<g clip-path="url(#c1)">
<rect x="426.3" y="605.25" width="192.5" height="145.95" fill="#7c7c7c" stroke="none" stroke-width="0" />
<rect x="426" y="605" width="193" height="147" fill="#747474"/>
<ellipse cx="462" cy="680" rx="38" ry="36" fill="#808080"/>
<path d="M426,605 L500,605 L520,625 L480,632 L426,640 Z" fill="#6c6c6c"/>
<path d="M426,640 Q480,628 548,642" stroke="#8e8e8e" stroke-width="7" fill="none"/>
<path d="M426,637 Q480,625 548,639" stroke="#a8a8a8" stroke-width="1.6" fill="none"/>
<path d="M504,640 Q514,630 526,637 Q520,650 506,648 Z" fill="#555"/>
<path d="M490,632 L560,606 M500,636 L568,610 M520,640 L585,612" stroke="#999" stroke-width="1.2" fill="none" stroke-opacity="0.7"/>
<ellipse cx="451" cy="686" rx="5" ry="4" fill="#4a4a4a"/>
<path d="M585,630 L619,612 L619,690 L590,682 Z" fill="#6a6a6a"/>
<path d="M590,640 L619,625 M592,655 L619,640 M596,668 L619,655" stroke="#8a8a8a" stroke-width="1.2" stroke-opacity="0.8"/>
<line x1="547.52" y1="693.42" x2="618.52" y2="717.42" stroke="#5a5a5a" stroke-width="23" stroke-opacity="0.6"/><line x1="548" y1="692" x2="619" y2="716" stroke="#7e7e7e" stroke-width="20"/><line x1="550.82" y1="683.66" x2="621.82" y2="707.66" stroke="#acacac" stroke-width="2"/>
<path d="M560,728 L619,722 L619,752 L560,752 Z" fill="#6f6f6f"/>
<line x1="426.3" y1="733.47" x2="495.3" y2="719.47" stroke="#5a5a5a" stroke-width="18" stroke-opacity="0.6"/><line x1="426" y1="732" x2="495" y2="718" stroke="#828282" stroke-width="15"/><line x1="424.75" y1="725.83" x2="493.75" y2="711.83" stroke="#a4a4a4" stroke-width="2"/>
<path d="M426,700 Q440,712 458,724" stroke="#a0a0a0" stroke-width="1.5" fill="none"/>
<line x1="481.26" y1="762.81" x2="587.26" y2="598.81" stroke="#505050" stroke-width="38" stroke-opacity="0.6"/><line x1="480" y1="762" x2="586" y2="598" stroke="#8a8a8a" stroke-width="35"/><line x1="466.31" y1="753.15" x2="572.31" y2="589.15" stroke="#c4c4c4" stroke-width="2"/>
<path d="M492,748 L578,612 M504,744 L588,612 M474,758 L564,618" stroke="#a2a2a2" stroke-width="1.1" fill="none" stroke-opacity="0.7"/>
<path d="M578,666 L619,620 M590,676 L619,645" stroke="#9a9a9a" stroke-width="1.6" fill="none" stroke-opacity="0.8"/>
</g>
<clipPath id="c2"><rect x="624" y="606" width="193" height="145.2"/></clipPath>
<g clip-path="url(#c2)">
<rect x="624" y="606" width="193" height="145.2" fill="#7c7c7c" stroke="none" stroke-width="0" />
<rect x="624" y="606" width="193" height="146" fill="#666666"/>
<path d="M648,700 L700,660 L760,655 L790,700 L760,735 L680,725 Z" fill="#454545"/>
<line x1="624.03" y1="744.5" x2="817.03" y2="748.5" stroke="#4e4e4e" stroke-width="13" stroke-opacity="0.6"/><line x1="624" y1="746" x2="817" y2="750" stroke="#838383" stroke-width="10"/><line x1="623.92" y1="749.8" x2="816.92" y2="753.8" stroke="#a5a5a5" stroke-width="2"/>
<line x1="636.4" y1="696.55" x2="745.4" y2="726.55" stroke="#4e4e4e" stroke-width="17" stroke-opacity="0.6"/><line x1="636" y1="698" x2="745" y2="728" stroke="#7b7b7b" stroke-width="14"/><line x1="634.46" y1="703.59" x2="743.46" y2="733.59" stroke="#9c9c9c" stroke-width="2"/>
<line x1="623.88" y1="615.51" x2="744.88" y2="605.51" stroke="#4e4e4e" stroke-width="20" stroke-opacity="0.6"/><line x1="624" y1="617" x2="745" y2="607" stroke="#7d7d7d" stroke-width="17"/><line x1="624.6" y1="624.28" x2="745.6" y2="614.28" stroke="#9f9f9f" stroke-width="2"/>
<line x1="752.14" y1="634.51" x2="817.14" y2="640.51" stroke="#4e4e4e" stroke-width="25" stroke-opacity="0.6"/><line x1="752" y1="636" x2="817" y2="642" stroke="#808080" stroke-width="22"/><line x1="751.1" y1="645.76" x2="816.1" y2="651.76" stroke="#a2a2a2" stroke-width="2"/>
<line x1="607.28" y1="696.68" x2="791.28" y2="596.68" stroke="#4e4e4e" stroke-width="33" stroke-opacity="0.6"/><line x1="608" y1="698" x2="792" y2="598" stroke="#848484" stroke-width="30"/><line x1="614.59" y1="710.13" x2="798.59" y2="610.13" stroke="#a8a8a8" stroke-width="2"/>
<line x1="654.3" y1="744.68" x2="816.3" y2="658.68" stroke="#4e4e4e" stroke-width="17" stroke-opacity="0.6"/><line x1="655" y1="746" x2="817" y2="660" stroke="#878787" stroke-width="14"/><line x1="657.72" y1="751.12" x2="819.72" y2="665.12" stroke="#ababab" stroke-width="2"/>
<line x1="734.07" y1="743.82" x2="816.07" y2="678.82" stroke="#4e4e4e" stroke-width="15" stroke-opacity="0.6"/><line x1="735" y1="745" x2="817" y2="680" stroke="#828282" stroke-width="12"/><line x1="737.98" y1="748.76" x2="819.98" y2="683.76" stroke="#a5a5a5" stroke-width="2"/>
<line x1="686.86" y1="600.97" x2="813.86" y2="750.97" stroke="#4e4e4e" stroke-width="19" stroke-opacity="0.6"/><line x1="688" y1="600" x2="815" y2="750" stroke="#8d8d8d" stroke-width="16"/><line x1="693.19" y1="595.61" x2="820.19" y2="745.61" stroke="#b0b0b0" stroke-width="2"/>
</g>
<rect x="535.5" y="741.75" width="75.25" height="6" fill="#fff" stroke="none" stroke-width="0" />
<rect x="735" y="741.75" width="76" height="6" fill="#fff" stroke="none" stroke-width="0" />
<text x="575.7" y="735.4" font-size="19" text-anchor="middle" fill="#fff" textLength="56.6" lengthAdjust="spacingAndGlyphs" >10 µm</text>
<text x="775.25" y="735.4" font-size="19" text-anchor="middle" fill="#fff" textLength="56.6" lengthAdjust="spacingAndGlyphs" >10 µm</text>
<text x="26.5" y="622" font-size="37" text-anchor="start" fill="#000" textLength="18.5" lengthAdjust="spacingAndGlyphs"  style="font-family:'Liberation Serif', serif">g</text>
<text x="45" y="631.6" font-size="24.5" text-anchor="start" fill="#000"  style="font-family:'Liberation Serif', serif">1</text>
<text x="216.5" y="622" font-size="37" text-anchor="start" fill="#000" textLength="18.5" lengthAdjust="spacingAndGlyphs"  style="font-family:'Liberation Serif', serif">g</text>
<text x="234.5" y="631.6" font-size="24.5" text-anchor="start" fill="#000"  style="font-family:'Liberation Serif', serif">2</text>
<text x="434.5" y="639.5" font-size="38.4" text-anchor="start" fill="#fff" textLength="20.5" lengthAdjust="spacingAndGlyphs"  font-weight="bold">h</text>
<text x="455.5" y="649" font-size="23.8" text-anchor="start" fill="#fff" textLength="12" lengthAdjust="spacingAndGlyphs"  font-weight="bold">1</text>
<text x="632" y="639.5" font-size="38.4" text-anchor="start" fill="#fff" textLength="20.5" lengthAdjust="spacingAndGlyphs"  font-weight="bold">h</text>
<text x="653" y="649" font-size="23.8" text-anchor="start" fill="#fff" textLength="12" lengthAdjust="spacingAndGlyphs"  font-weight="bold">2</text>
<text x="826" y="634.7" font-size="34" text-anchor="start" fill="#000" textLength="7.5" lengthAdjust="spacingAndGlyphs" >i</text>
<text x="834" y="644.7" font-size="24.5" text-anchor="start" fill="#000"  style="font-family:'Liberation Serif', serif">1</text>
<text x="997.5" y="634.7" font-size="34" text-anchor="start" fill="#000" textLength="7.5" lengthAdjust="spacingAndGlyphs" >i</text>
<text x="1005.5" y="644.7" font-size="24.5" text-anchor="start" fill="#000"  style="font-family:'Liberation Serif', serif">2</text>
<line x1="1" y1="6.4" x2="1199.4" y2="6.4" stroke="#5A96D0" stroke-width="2" stroke-dasharray="6.6 2.0" stroke-dashoffset="-1"/>
<line x1="2" y1="8.2" x2="2" y2="770" stroke="#5A96D0" stroke-width="2" stroke-dasharray="6.4 2.1"/>
<line x1="1199.4" y1="769" x2="1" y2="769" stroke="#5A96D0" stroke-width="2" stroke-dasharray="6.2 2.32" stroke-dashoffset="2.8"/>
<line x1="1198.4" y1="770" x2="1198.4" y2="5.4" stroke="#5A96D0" stroke-width="2" stroke-dasharray="6 2.5" stroke-dashoffset="1.4"/>
</svg></body></html>
